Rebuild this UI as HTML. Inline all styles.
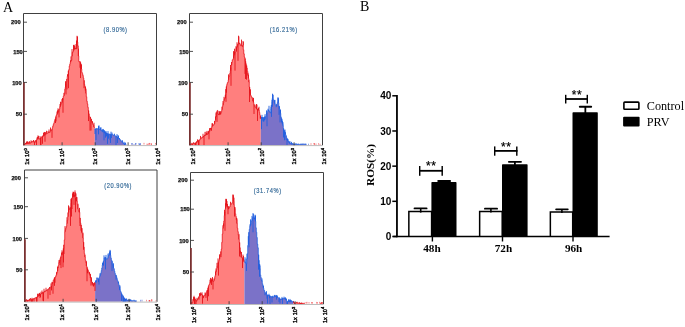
<!DOCTYPE html>
<html><head><meta charset="utf-8"><title>Figure</title>
<style>
html,body{margin:0;padding:0;background:#fff;}
body{width:685px;height:327px;overflow:hidden;}
svg{display:block;will-change:transform;}
text{font-family:"Liberation Sans",sans-serif;}
.yl{font-size:5.7px;font-weight:bold;text-anchor:end;fill:#111;stroke:#111;stroke-width:0.25px;}
.xl{font-size:5.6px;fill:#000;stroke:#000;stroke-width:0.4px;letter-spacing:0.1px;}
.pc{font-size:6.9px;fill:#356a98;letter-spacing:0.7px;stroke:#356a98;stroke-width:0.18px;}
.bl{font-size:10px;font-weight:bold;fill:#000;}
.st{font-size:12px;fill:#000;stroke:#000;stroke-width:0.2px;letter-spacing:0.6px;}
.xb{font-family:"Liberation Serif",serif;font-size:11.2px;font-weight:bold;fill:#000;}
.ros{font-family:"Liberation Serif",serif;font-size:11.3px;font-weight:bold;fill:#000;}
.lg{font-family:"Liberation Serif",serif;font-size:12.2px;fill:#000;}
.pl{font-family:"Liberation Serif",serif;font-size:14px;fill:#000;}
</style></head>
<body>
<svg width="685" height="327" viewBox="0 0 685 327">
<polygon points="23.50,145.30 23.50,144.30 24.25,144.30 24.25,144.46 24.75,144.46 24.75,144.15 25.25,144.15 25.25,143.96 25.75,143.96 25.75,143.50 26.25,143.50 26.25,143.74 26.75,143.74 26.75,143.44 27.25,143.44 27.25,142.82 27.75,142.82 27.75,143.35 28.25,143.35 28.25,143.09 28.75,143.09 28.75,143.31 29.25,143.31 29.25,142.87 29.75,142.87 29.75,143.34 30.25,143.34 30.25,142.64 30.75,142.64 30.75,142.64 31.25,142.64 31.25,141.89 31.75,141.89 31.75,141.20 32.25,141.20 32.25,141.95 32.75,141.95 32.75,141.86 33.25,141.86 33.25,141.79 33.75,141.79 33.75,141.91 34.25,141.91 34.25,141.88 34.75,141.88 34.75,142.32 35.25,142.32 35.25,141.63 35.75,141.63 35.75,141.09 36.25,141.09 36.25,140.24 36.75,140.24 36.75,139.34 37.25,139.34 37.25,138.82 37.75,138.82 37.75,138.64 38.25,138.64 38.25,138.67 38.75,138.67 38.75,138.82 39.25,138.82 39.25,139.06 39.75,139.06 39.75,138.83 40.25,138.83 40.25,138.33 40.75,138.33 40.75,137.64 41.25,137.64 41.25,137.09 41.75,137.09 41.75,136.75 42.25,136.75 42.25,136.34 42.75,136.34 42.75,135.77 43.25,135.77 43.25,136.15 43.75,136.15 43.75,135.29 44.25,135.29 44.25,135.38 44.75,135.38 44.75,135.39 45.25,135.39 45.25,134.60 45.75,134.60 45.75,133.94 46.25,133.94 46.25,133.60 46.75,133.60 46.75,133.39 47.25,133.39 47.25,133.32 47.75,133.32 47.75,132.88 48.25,132.88 48.25,132.42 48.75,132.42 48.75,132.37 49.25,132.37 49.25,131.97 49.75,131.97 49.75,132.11 50.25,132.11 50.25,130.79 50.75,130.79 50.75,130.29 51.25,130.29 51.25,130.08 51.75,130.08 51.75,129.55 52.25,129.55 52.25,127.75 52.75,127.75 52.75,126.05 53.25,126.05 53.25,124.43 53.75,124.43 53.75,123.24 54.25,123.24 54.25,121.44 54.75,121.44 54.75,119.65 55.25,119.65 55.25,118.75 55.75,118.75 55.75,116.63 56.25,116.63 56.25,115.00 56.75,115.00 56.75,114.39 57.25,114.39 57.25,113.41 57.75,113.41 57.75,112.26 58.25,112.26 58.25,111.48 58.75,111.48 58.75,109.49 59.25,109.49 59.25,108.96 59.75,108.96 59.75,106.98 60.25,106.98 60.25,105.72 60.75,105.72 60.75,104.23 61.25,104.23 61.25,102.65 61.75,102.65 61.75,102.28 62.25,102.28 62.25,100.15 62.75,100.15 62.75,98.74 63.25,98.74 63.25,96.20 63.75,96.20 63.75,95.65 64.25,95.65 64.25,92.74 64.75,92.74 64.75,89.16 65.25,89.16 65.25,87.21 65.75,87.21 65.75,83.79 66.25,83.79 66.25,81.72 66.75,81.72 66.75,79.08 67.25,79.08 67.25,76.37 67.75,76.37 67.75,74.49 68.25,74.49 68.25,70.76 68.75,70.76 68.75,69.61 69.25,69.61 69.25,66.01 69.75,66.01 69.75,64.13 70.25,64.13 70.25,62.24 70.75,62.24 70.75,60.92 71.25,60.92 71.25,60.20 71.75,60.20 71.75,56.07 72.25,56.07 72.25,52.57 72.75,52.57 72.75,51.82 73.25,51.82 73.25,50.75 73.75,50.75 73.75,49.13 74.25,49.13 74.25,49.25 74.75,49.25 74.75,48.14 75.25,48.14 75.25,48.09 75.75,48.09 75.75,49.02 76.25,49.02 76.25,45.99 76.75,45.99 76.75,41.69 77.25,41.69 77.25,42.07 77.75,42.07 77.75,45.86 78.25,45.86 78.25,55.92 78.75,55.92 78.75,61.56 79.25,61.56 79.25,61.61 79.75,61.61 79.75,61.68 80.25,61.68 80.25,62.79 80.75,62.79 80.75,65.25 81.25,65.25 81.25,69.03 81.75,69.03 81.75,72.51 82.25,72.51 82.25,73.70 82.75,73.70 82.75,75.54 83.25,75.54 83.25,78.04 83.75,78.04 83.75,80.47 84.25,80.47 84.25,84.56 84.75,84.56 84.75,86.78 85.25,86.78 85.25,90.48 85.75,90.48 85.75,93.24 86.25,93.24 86.25,96.75 86.75,96.75 86.75,101.27 87.25,101.27 87.25,103.83 87.75,103.83 87.75,107.31 88.25,107.31 88.25,110.57 88.75,110.57 88.75,113.86 89.25,113.86 89.25,116.28 89.75,116.28 89.75,117.75 90.25,117.75 90.25,118.50 90.75,118.50 90.75,120.32 91.25,120.32 91.25,121.19 91.75,121.19 91.75,122.28 92.25,122.28 92.25,123.24 92.75,123.24 92.75,124.44 93.25,124.44 93.25,124.99 93.75,124.99 93.75,126.96 94.25,126.96 94.25,127.47 94.80,127.47 94.80,145.30" fill="#ff7f7e"/>
<polyline points="23.50,144.30 24.25,144.30 24.25,144.46 24.75,144.46 24.75,144.15 25.25,144.15 25.25,143.96 25.75,143.96 25.75,143.50 26.25,143.50 26.25,143.74 26.75,143.74 26.75,143.44 27.25,143.44 27.25,142.82 27.75,142.82 27.75,143.35 28.25,143.35 28.25,143.09 28.75,143.09 28.75,143.31 29.25,143.31 29.25,142.87 29.75,142.87 29.75,143.34 30.25,143.34 30.25,142.64 30.75,142.64 30.75,142.64 31.25,142.64 31.25,141.89 31.75,141.89 31.75,141.20 32.25,141.20 32.25,141.95 32.75,141.95 32.75,141.86 33.25,141.86 33.25,141.79 33.75,141.79 33.75,141.91 34.25,141.91 34.25,141.88 34.75,141.88 34.75,142.32 35.25,142.32 35.25,141.63 35.75,141.63 35.75,141.09 36.25,141.09 36.25,140.24 36.75,140.24 36.75,139.34 37.25,139.34 37.25,138.82 37.75,138.82 37.75,138.64 38.25,138.64 38.25,138.67 38.75,138.67 38.75,138.82 39.25,138.82 39.25,139.06 39.75,139.06 39.75,138.83 40.25,138.83 40.25,138.33 40.75,138.33 40.75,137.64 41.25,137.64 41.25,137.09 41.75,137.09 41.75,136.75 42.25,136.75 42.25,136.34 42.75,136.34 42.75,135.77 43.25,135.77 43.25,136.15 43.75,136.15 43.75,135.29 44.25,135.29 44.25,135.38 44.75,135.38 44.75,135.39 45.25,135.39 45.25,134.60 45.75,134.60 45.75,133.94 46.25,133.94 46.25,133.60 46.75,133.60 46.75,133.39 47.25,133.39 47.25,133.32 47.75,133.32 47.75,132.88 48.25,132.88 48.25,132.42 48.75,132.42 48.75,132.37 49.25,132.37 49.25,131.97 49.75,131.97 49.75,132.11 50.25,132.11 50.25,130.79 50.75,130.79 50.75,130.29 51.25,130.29 51.25,130.08 51.75,130.08 51.75,129.55 52.25,129.55 52.25,127.75 52.75,127.75 52.75,126.05 53.25,126.05 53.25,124.43 53.75,124.43 53.75,123.24 54.25,123.24 54.25,121.44 54.75,121.44 54.75,119.65 55.25,119.65 55.25,118.75 55.75,118.75 55.75,116.63 56.25,116.63 56.25,115.00 56.75,115.00 56.75,114.39 57.25,114.39 57.25,113.41 57.75,113.41 57.75,112.26 58.25,112.26 58.25,111.48 58.75,111.48 58.75,109.49 59.25,109.49 59.25,108.96 59.75,108.96 59.75,106.98 60.25,106.98 60.25,105.72 60.75,105.72 60.75,104.23 61.25,104.23 61.25,102.65 61.75,102.65 61.75,102.28 62.25,102.28 62.25,100.15 62.75,100.15 62.75,98.74 63.25,98.74 63.25,96.20 63.75,96.20 63.75,95.65 64.25,95.65 64.25,92.74 64.75,92.74 64.75,89.16 65.25,89.16 65.25,87.21 65.75,87.21 65.75,83.79 66.25,83.79 66.25,81.72 66.75,81.72 66.75,79.08 67.25,79.08 67.25,76.37 67.75,76.37 67.75,74.49 68.25,74.49 68.25,70.76 68.75,70.76 68.75,69.61 69.25,69.61 69.25,66.01 69.75,66.01 69.75,64.13 70.25,64.13 70.25,62.24 70.75,62.24 70.75,60.92 71.25,60.92 71.25,60.20 71.75,60.20 71.75,56.07 72.25,56.07 72.25,52.57 72.75,52.57 72.75,51.82 73.25,51.82 73.25,50.75 73.75,50.75 73.75,49.13 74.25,49.13 74.25,49.25 74.75,49.25 74.75,48.14 75.25,48.14 75.25,48.09 75.75,48.09 75.75,49.02 76.25,49.02 76.25,45.99 76.75,45.99 76.75,41.69 77.25,41.69 77.25,42.07 77.75,42.07 77.75,45.86 78.25,45.86 78.25,55.92 78.75,55.92 78.75,61.56 79.25,61.56 79.25,61.61 79.75,61.61 79.75,61.68 80.25,61.68 80.25,62.79 80.75,62.79 80.75,65.25 81.25,65.25 81.25,69.03 81.75,69.03 81.75,72.51 82.25,72.51 82.25,73.70 82.75,73.70 82.75,75.54 83.25,75.54 83.25,78.04 83.75,78.04 83.75,80.47 84.25,80.47 84.25,84.56 84.75,84.56 84.75,86.78 85.25,86.78 85.25,90.48 85.75,90.48 85.75,93.24 86.25,93.24 86.25,96.75 86.75,96.75 86.75,101.27 87.25,101.27 87.25,103.83 87.75,103.83 87.75,107.31 88.25,107.31 88.25,110.57 88.75,110.57 88.75,113.86 89.25,113.86 89.25,116.28 89.75,116.28 89.75,117.75 90.25,117.75 90.25,118.50 90.75,118.50 90.75,120.32 91.25,120.32 91.25,121.19 91.75,121.19 91.75,122.28 92.25,122.28 92.25,123.24 92.75,123.24 92.75,124.44 93.25,124.44 93.25,124.99 93.75,124.99 93.75,126.96 94.25,126.96 94.25,127.47 94.80,127.47" fill="none" stroke="#e4121a" stroke-width="0.80"/>
<polygon points="94.80,145.30 94.80,128.77 95.25,128.77 95.25,129.29 95.75,129.29 95.75,128.99 96.25,128.99 96.25,128.56 96.75,128.56 96.75,129.17 97.25,129.17 97.25,128.99 97.75,128.99 97.75,128.59 98.25,128.59 98.25,128.03 98.75,128.03 98.75,129.04 99.25,129.04 99.25,129.09 99.75,129.09 99.75,129.52 100.25,129.52 100.25,129.80 100.75,129.80 100.75,130.05 101.25,130.05 101.25,130.10 101.75,130.10 101.75,131.25 102.25,131.25 102.25,131.64 102.75,131.64 102.75,131.78 103.25,131.78 103.25,131.53 103.75,131.53 103.75,132.08 104.25,132.08 104.25,132.70 104.75,132.70 104.75,133.03 105.25,133.03 105.25,132.44 105.75,132.44 105.75,132.60 106.25,132.60 106.25,132.99 106.75,132.99 106.75,133.49 107.25,133.49 107.25,133.77 107.75,133.77 107.75,133.54 108.25,133.54 108.25,134.29 108.75,134.29 108.75,133.96 109.25,133.96 109.25,134.26 109.75,134.26 109.75,134.27 110.25,134.27 110.25,134.66 110.75,134.66 110.75,134.16 111.25,134.16 111.25,134.41 111.75,134.41 111.75,134.16 112.25,134.16 112.25,134.60 112.75,134.60 112.75,135.01 113.25,135.01 113.25,135.04 113.75,135.04 113.75,135.25 114.25,135.25 114.25,135.32 114.75,135.32 114.75,135.74 115.25,135.74 115.25,136.13 115.75,136.13 115.75,136.30 116.25,136.30 116.25,136.46 116.75,136.46 116.75,137.47 117.25,137.47 117.25,137.34 117.75,137.34 117.75,137.70 118.25,137.70 118.25,138.33 118.75,138.33 118.75,138.50 119.25,138.50 119.25,139.32 119.75,139.32 119.75,139.56 120.25,139.56 120.25,140.09 120.75,140.09 120.75,140.84 121.25,140.84 121.25,141.15 121.75,141.15 121.75,141.89 122.25,141.89 122.25,142.29 122.75,142.29 122.75,142.98 123.25,142.98 123.25,143.50 123.75,143.50 123.75,143.76 124.25,143.76 124.25,143.99 124.75,143.99 124.75,144.09 125.25,144.09 125.25,144.11 125.75,144.11 125.75,144.38 126.25,144.38 126.25,145.30 126.75,145.30 126.75,145.30 127.25,145.30 127.25,145.30 127.75,145.30 127.75,145.30 128.25,145.30 128.25,145.30 128.75,145.30 128.75,145.30 129.25,145.30 129.25,145.30 129.75,145.30 129.75,145.30 130.25,145.30 130.25,145.30 130.75,145.30 130.75,145.30 131.25,145.30 131.25,143.56 131.75,143.56 131.75,145.30 132.25,145.30 132.25,143.61 132.75,143.61 132.75,145.30 133.25,145.30 133.25,145.30 133.75,145.30 133.75,144.46 134.25,144.46 134.25,145.30 134.75,145.30 134.75,145.30 135.25,145.30 135.25,143.57 135.75,143.57 135.75,143.43 136.25,143.43 136.25,145.30 136.75,145.30 136.75,145.30 137.25,145.30 137.25,145.30 137.75,145.30 137.75,145.30 138.25,145.30 138.25,145.30 138.75,145.30 138.75,143.60 139.25,143.60 139.25,144.44 139.75,144.44 139.75,145.30 140.25,145.30 140.25,143.73 141.00,143.73 141.00,145.30" fill="#7b72c8"/>
<polyline points="94.80,128.77 95.25,128.77 95.25,129.29 95.75,129.29 95.75,128.99 96.25,128.99 96.25,128.56 96.75,128.56 96.75,129.17 97.25,129.17 97.25,128.99 97.75,128.99 97.75,128.59 98.25,128.59 98.25,128.03 98.75,128.03 98.75,129.04 99.25,129.04 99.25,129.09 99.75,129.09 99.75,129.52 100.25,129.52 100.25,129.80 100.75,129.80 100.75,130.05 101.25,130.05 101.25,130.10 101.75,130.10 101.75,131.25 102.25,131.25 102.25,131.64 102.75,131.64 102.75,131.78 103.25,131.78 103.25,131.53 103.75,131.53 103.75,132.08 104.25,132.08 104.25,132.70 104.75,132.70 104.75,133.03 105.25,133.03 105.25,132.44 105.75,132.44 105.75,132.60 106.25,132.60 106.25,132.99 106.75,132.99 106.75,133.49 107.25,133.49 107.25,133.77 107.75,133.77 107.75,133.54 108.25,133.54 108.25,134.29 108.75,134.29 108.75,133.96 109.25,133.96 109.25,134.26 109.75,134.26 109.75,134.27 110.25,134.27 110.25,134.66 110.75,134.66 110.75,134.16 111.25,134.16 111.25,134.41 111.75,134.41 111.75,134.16 112.25,134.16 112.25,134.60 112.75,134.60 112.75,135.01 113.25,135.01 113.25,135.04 113.75,135.04 113.75,135.25 114.25,135.25 114.25,135.32 114.75,135.32 114.75,135.74 115.25,135.74 115.25,136.13 115.75,136.13 115.75,136.30 116.25,136.30 116.25,136.46 116.75,136.46 116.75,137.47 117.25,137.47 117.25,137.34 117.75,137.34 117.75,137.70 118.25,137.70 118.25,138.33 118.75,138.33 118.75,138.50 119.25,138.50 119.25,139.32 119.75,139.32 119.75,139.56 120.25,139.56 120.25,140.09 120.75,140.09 120.75,140.84 121.25,140.84 121.25,141.15 121.75,141.15 121.75,141.89 122.25,141.89 122.25,142.29 122.75,142.29 122.75,142.98 123.25,142.98 123.25,143.50 123.75,143.50 123.75,143.76 124.25,143.76 124.25,143.99 124.75,143.99 124.75,144.09 125.25,144.09 125.25,144.11 125.75,144.11 125.75,144.38 126.25,144.38" fill="none" stroke="#1f5fe0" stroke-width="0.80"/>
<polyline points="131.25,143.56 131.75,143.56" fill="none" stroke="#1f5fe0" stroke-width="0.80"/>
<polyline points="132.25,143.61 132.75,143.61" fill="none" stroke="#1f5fe0" stroke-width="0.80"/>
<polyline points="133.75,144.46 134.25,144.46" fill="none" stroke="#1f5fe0" stroke-width="0.80"/>
<polyline points="135.25,143.57 135.75,143.57 135.75,143.43 136.25,143.43" fill="none" stroke="#1f5fe0" stroke-width="0.80"/>
<polyline points="138.75,143.60 139.25,143.60 139.25,144.44 139.75,144.44" fill="none" stroke="#1f5fe0" stroke-width="0.80"/>
<polyline points="140.25,143.73 141.00,143.73" fill="none" stroke="#1f5fe0" stroke-width="0.80"/>
<polygon points="141.00,145.30 141.00,145.30 141.25,145.30 141.25,145.30 141.75,145.30 141.75,145.30 142.25,145.30 142.25,145.30 142.75,145.30 142.75,145.30 143.25,145.30 143.25,145.30 143.75,145.30 143.75,143.32 144.25,143.32 144.25,145.30 144.75,145.30 144.75,145.30 145.25,145.30 145.25,145.30 145.75,145.30 145.75,145.30 146.25,145.30 146.25,145.30 146.75,145.30 146.75,144.02 147.25,144.02 147.25,145.30 147.75,145.30 147.75,144.28 148.25,144.28 148.25,145.30 148.75,145.30 148.75,143.53 149.25,143.53 149.25,143.41 149.75,143.41 149.75,145.30 150.25,145.30 150.25,145.30 150.75,145.30 150.75,143.74 151.25,143.74 151.25,144.10 151.75,144.10 151.75,145.30 152.25,145.30 152.25,145.30 152.75,145.30 152.75,145.30 153.25,145.30 153.25,145.30 153.75,145.30 153.75,145.30 154.25,145.30 154.25,145.30 154.75,145.30 154.75,145.30 155.25,145.30 155.25,143.43 155.75,143.43 155.75,145.30" fill="#ff7f7e"/>
<polyline points="143.75,143.32 144.25,143.32" fill="none" stroke="#e4121a" stroke-width="0.80"/>
<polyline points="146.75,144.02 147.25,144.02" fill="none" stroke="#e4121a" stroke-width="0.80"/>
<polyline points="147.75,144.28 148.25,144.28" fill="none" stroke="#e4121a" stroke-width="0.80"/>
<polyline points="148.75,143.53 149.25,143.53 149.25,143.41 149.75,143.41" fill="none" stroke="#e4121a" stroke-width="0.80"/>
<polyline points="150.75,143.74 151.25,143.74 151.25,144.10 151.75,144.10" fill="none" stroke="#e4121a" stroke-width="0.80"/>
<polyline points="155.25,143.43 155.75,143.43" fill="none" stroke="#e4121a" stroke-width="0.80"/>
<path d="M24.00,145.30V144.30M25.50,143.96V142.85M26.50,143.74V141.83M27.00,143.44V141.20M27.50,142.82V141.49M28.00,143.35V142.02M29.00,143.31V141.61M29.50,142.87V141.26M31.00,142.64V140.35M33.50,141.79V140.03M34.00,141.91V140.62M34.50,145.30V141.88M35.50,141.63V140.21M36.50,145.30V140.24M37.00,139.34V137.52M37.50,138.82V136.88M38.00,138.64V135.38M38.50,138.67V136.05M40.00,138.83V136.06M40.50,145.30V138.33M41.00,145.30V137.64M42.50,143.78V136.34M43.50,136.15V132.83M44.00,135.29V132.40M44.50,135.38V131.94M45.00,141.73V135.39M45.50,134.60V132.15M46.50,133.60V130.76M48.00,132.88V131.02M49.00,132.37V129.47M50.50,130.79V127.50M52.00,137.84V129.55M55.50,122.99V118.75M56.00,121.36V116.63M57.00,114.39V111.58M57.50,113.41V110.33M58.00,112.26V108.34M59.00,117.37V109.49M60.00,106.98V104.01M60.50,105.72V101.73M62.00,102.28V99.01M62.50,100.15V98.02M63.00,112.75V98.74M64.00,95.65V92.95M65.50,87.21V81.23M66.00,94.40V83.79M67.00,89.44V79.08M67.50,76.37V74.37M68.50,88.18V70.76M70.50,62.24V60.34M71.00,60.92V56.42M72.00,56.07V49.06M73.50,50.75V45.00M74.00,49.13V45.83M74.00,49.13V44.70M74.40,49.13V45.50M76.00,49.02V43.99M76.50,45.99V40.45M77.00,48.67V41.69M77.00,41.69V35.80M77.40,41.69V36.60M77.50,42.07V36.71M78.50,55.92V48.62M80.00,67.73V61.68M80.50,78.06V62.79M81.00,69.00V65.25M81.50,69.03V64.24M84.00,88.18V80.47M85.50,90.48V86.54M86.00,93.24V88.66M88.50,121.05V110.57M90.00,130.63V117.75M90.50,118.50V116.96M91.00,130.50V120.32M91.50,121.19V118.87M92.50,123.24V121.16M94.00,126.96V122.73" stroke="#e4121a" stroke-width="0.90" fill="none"/>
<path d="M95.00,134.02V128.77M96.00,140.02V128.99M98.50,134.33V128.03M98.50,128.03V125.90M98.90,128.03V126.70M99.00,129.04V125.42M100.50,129.80V127.59M101.00,130.05V127.35M102.50,131.64V129.46M103.00,131.78V128.94M103.50,131.53V129.41M104.00,140.28V132.08M104.50,132.70V130.23M105.00,133.03V130.88M105.50,137.69V132.44M106.00,132.60V131.02M106.50,136.33V132.99M107.50,143.87V133.77M108.00,133.54V131.09M108.50,138.68V134.29M110.00,139.88V134.27M110.50,142.96V134.66M111.00,134.16V131.66M111.50,138.07V134.41M112.00,134.16V132.58M114.50,135.32V133.72M116.00,145.30V136.30M117.00,137.47V134.11M117.50,143.06V137.34M118.00,137.70V135.00M118.50,138.33V135.89M119.50,139.32V138.12M122.50,142.29V140.25M124.00,143.76V141.77M124.50,145.30V143.99M125.00,144.09V142.48M125.50,144.11V142.83" stroke="#1f5fe0" stroke-width="0.90" fill="none"/>
<path d="M23.50,145.30 V13.50 H156.50 V145.30" fill="none" stroke="#404040" stroke-width="1"/>
<line x1="23.50" y1="145.60" x2="156.50" y2="145.60" stroke="#bdbdbd" stroke-width="1"/>
<line x1="23.95" y1="82.00" x2="23.95" y2="145.30" stroke="#7e3030" stroke-width="1.7"/>
<line x1="23.50" y1="22.20" x2="27.00" y2="22.20" stroke="#404040" stroke-width="0.9"/>
<text x="20.60" y="24.30" class="yl">200</text>
<line x1="23.50" y1="51.40" x2="27.00" y2="51.40" stroke="#404040" stroke-width="0.9"/>
<text x="22.80" y="53.50" class="yl">150</text>
<line x1="23.50" y1="82.40" x2="27.00" y2="82.40" stroke="#404040" stroke-width="0.9"/>
<text x="21.70" y="84.50" class="yl">100</text>
<line x1="23.50" y1="114.20" x2="27.00" y2="114.20" stroke="#404040" stroke-width="0.9"/>
<text x="22.10" y="116.30" class="yl">50</text>
<text transform="translate(29.20,164.80) rotate(-90)" class="xl">1x 10<tspan dy="-2.3" font-size="4">0</tspan></text>
<line x1="62.10" y1="145.30" x2="62.10" y2="142.30" stroke="#404040" stroke-width="0.9"/>
<text transform="translate(64.20,164.80) rotate(-90)" class="xl">1x 10<tspan dy="-2.3" font-size="4">1</tspan></text>
<line x1="95.20" y1="145.30" x2="95.20" y2="142.30" stroke="#404040" stroke-width="0.9"/>
<text transform="translate(97.30,164.80) rotate(-90)" class="xl">1x 10<tspan dy="-2.3" font-size="4">2</tspan></text>
<line x1="128.10" y1="145.30" x2="128.10" y2="142.30" stroke="#404040" stroke-width="0.9"/>
<text transform="translate(130.20,164.80) rotate(-90)" class="xl">1x 10<tspan dy="-2.3" font-size="4">3</tspan></text>
<text transform="translate(159.90,164.80) rotate(-90)" class="xl">1x 10<tspan dy="-2.3" font-size="4">4</tspan></text>
<text transform="translate(103.50,31.70) scale(0.830,1)" class="pc">(8.90%)</text>
<polygon points="189.50,145.30 189.50,144.48 190.25,144.48 190.25,144.57 190.75,144.57 190.75,144.32 191.25,144.32 191.25,144.32 191.75,144.32 191.75,143.96 192.25,143.96 192.25,144.09 192.75,144.09 192.75,143.76 193.25,143.76 193.25,143.65 193.75,143.65 193.75,143.45 194.25,143.45 194.25,143.52 194.75,143.52 194.75,143.52 195.25,143.52 195.25,143.08 195.75,143.08 195.75,142.64 196.25,142.64 196.25,142.68 196.75,142.68 196.75,142.00 197.25,142.00 197.25,141.63 197.75,141.63 197.75,141.08 198.25,141.08 198.25,141.12 198.75,141.12 198.75,140.44 199.25,140.44 199.25,139.83 199.75,139.83 199.75,139.66 200.25,139.66 200.25,138.60 200.75,138.60 200.75,138.43 201.25,138.43 201.25,138.43 201.75,138.43 201.75,137.31 202.25,137.31 202.25,137.43 202.75,137.43 202.75,136.99 203.25,136.99 203.25,136.53 203.75,136.53 203.75,136.16 204.25,136.16 204.25,135.09 204.75,135.09 204.75,135.53 205.25,135.53 205.25,134.97 205.75,134.97 205.75,134.53 206.25,134.53 206.25,134.73 206.75,134.73 206.75,133.93 207.25,133.93 207.25,134.38 207.75,134.38 207.75,133.49 208.25,133.49 208.25,133.30 208.75,133.30 208.75,132.41 209.25,132.41 209.25,131.50 209.75,131.50 209.75,130.49 210.25,130.49 210.25,129.49 210.75,129.49 210.75,128.36 211.25,128.36 211.25,128.14 211.75,128.14 211.75,126.63 212.25,126.63 212.25,125.88 212.75,125.88 212.75,125.59 213.25,125.59 213.25,125.21 213.75,125.21 213.75,124.21 214.25,124.21 214.25,123.78 214.75,123.78 214.75,121.53 215.25,121.53 215.25,119.88 215.75,119.88 215.75,116.82 216.25,116.82 216.25,113.58 216.75,113.58 216.75,111.72 217.25,111.72 217.25,110.44 217.75,110.44 217.75,113.74 218.25,113.74 218.25,114.51 218.75,114.51 218.75,114.89 219.25,114.89 219.25,114.12 219.75,114.12 219.75,113.54 220.25,113.54 220.25,114.25 220.75,114.25 220.75,112.96 221.25,112.96 221.25,111.51 221.75,111.51 221.75,109.65 222.25,109.65 222.25,106.79 222.75,106.79 222.75,105.15 223.25,105.15 223.25,102.87 223.75,102.87 223.75,100.79 224.25,100.79 224.25,99.02 224.75,99.02 224.75,97.77 225.25,97.77 225.25,94.81 225.75,94.81 225.75,89.27 226.25,89.27 226.25,86.52 226.75,86.52 226.75,84.60 227.25,84.60 227.25,82.78 227.75,82.78 227.75,82.26 228.25,82.26 228.25,79.84 228.75,79.84 228.75,76.88 229.25,76.88 229.25,75.72 229.75,75.72 229.75,73.29 230.25,73.29 230.25,70.71 230.75,70.71 230.75,67.76 231.25,67.76 231.25,65.02 231.75,65.02 231.75,62.42 232.25,62.42 232.25,59.78 232.75,59.78 232.75,59.70 233.25,59.70 233.25,58.31 233.75,58.31 233.75,55.76 234.25,55.76 234.25,54.62 234.75,54.62 234.75,52.34 235.25,52.34 235.25,51.91 235.75,51.91 235.75,49.95 236.25,49.95 236.25,47.31 236.75,47.31 236.75,47.18 237.25,47.18 237.25,45.40 237.75,45.40 237.75,44.07 238.25,44.07 238.25,43.19 238.75,43.19 238.75,43.75 239.25,43.75 239.25,42.96 239.75,42.96 239.75,43.97 240.25,43.97 240.25,45.44 240.75,45.44 240.75,45.78 241.25,45.78 241.25,45.56 241.75,45.56 241.75,45.50 242.25,45.50 242.25,46.60 242.75,46.60 242.75,45.18 243.25,45.18 243.25,49.76 243.75,49.76 243.75,53.82 244.25,53.82 244.25,57.02 244.75,57.02 244.75,58.61 245.25,58.61 245.25,61.40 245.75,61.40 245.75,63.72 246.25,63.72 246.25,65.59 246.75,65.59 246.75,68.04 247.25,68.04 247.25,71.24 247.75,71.24 247.75,75.39 248.25,75.39 248.25,78.37 248.75,78.37 248.75,81.97 249.25,81.97 249.25,87.05 249.75,87.05 249.75,92.61 250.25,92.61 250.25,94.95 250.75,94.95 250.75,95.85 251.25,95.85 251.25,96.93 251.75,96.93 251.75,97.41 252.25,97.41 252.25,98.89 252.75,98.89 252.75,101.01 253.25,101.01 253.25,102.42 253.75,102.42 253.75,104.47 254.25,104.47 254.25,105.52 254.75,105.52 254.75,106.97 255.25,106.97 255.25,107.19 255.75,107.19 255.75,107.23 256.25,107.23 256.25,108.86 256.75,108.86 256.75,109.08 257.25,109.08 257.25,109.21 257.75,109.21 257.75,109.69 258.25,109.69 258.25,110.03 258.75,110.03 258.75,110.40 259.25,110.40 259.25,112.45 259.75,112.45 259.75,114.98 260.25,114.98 260.25,118.51 260.80,118.51 260.80,145.30" fill="#ff7f7e"/>
<polyline points="189.50,144.48 190.25,144.48 190.25,144.57 190.75,144.57 190.75,144.32 191.25,144.32 191.25,144.32 191.75,144.32 191.75,143.96 192.25,143.96 192.25,144.09 192.75,144.09 192.75,143.76 193.25,143.76 193.25,143.65 193.75,143.65 193.75,143.45 194.25,143.45 194.25,143.52 194.75,143.52 194.75,143.52 195.25,143.52 195.25,143.08 195.75,143.08 195.75,142.64 196.25,142.64 196.25,142.68 196.75,142.68 196.75,142.00 197.25,142.00 197.25,141.63 197.75,141.63 197.75,141.08 198.25,141.08 198.25,141.12 198.75,141.12 198.75,140.44 199.25,140.44 199.25,139.83 199.75,139.83 199.75,139.66 200.25,139.66 200.25,138.60 200.75,138.60 200.75,138.43 201.25,138.43 201.25,138.43 201.75,138.43 201.75,137.31 202.25,137.31 202.25,137.43 202.75,137.43 202.75,136.99 203.25,136.99 203.25,136.53 203.75,136.53 203.75,136.16 204.25,136.16 204.25,135.09 204.75,135.09 204.75,135.53 205.25,135.53 205.25,134.97 205.75,134.97 205.75,134.53 206.25,134.53 206.25,134.73 206.75,134.73 206.75,133.93 207.25,133.93 207.25,134.38 207.75,134.38 207.75,133.49 208.25,133.49 208.25,133.30 208.75,133.30 208.75,132.41 209.25,132.41 209.25,131.50 209.75,131.50 209.75,130.49 210.25,130.49 210.25,129.49 210.75,129.49 210.75,128.36 211.25,128.36 211.25,128.14 211.75,128.14 211.75,126.63 212.25,126.63 212.25,125.88 212.75,125.88 212.75,125.59 213.25,125.59 213.25,125.21 213.75,125.21 213.75,124.21 214.25,124.21 214.25,123.78 214.75,123.78 214.75,121.53 215.25,121.53 215.25,119.88 215.75,119.88 215.75,116.82 216.25,116.82 216.25,113.58 216.75,113.58 216.75,111.72 217.25,111.72 217.25,110.44 217.75,110.44 217.75,113.74 218.25,113.74 218.25,114.51 218.75,114.51 218.75,114.89 219.25,114.89 219.25,114.12 219.75,114.12 219.75,113.54 220.25,113.54 220.25,114.25 220.75,114.25 220.75,112.96 221.25,112.96 221.25,111.51 221.75,111.51 221.75,109.65 222.25,109.65 222.25,106.79 222.75,106.79 222.75,105.15 223.25,105.15 223.25,102.87 223.75,102.87 223.75,100.79 224.25,100.79 224.25,99.02 224.75,99.02 224.75,97.77 225.25,97.77 225.25,94.81 225.75,94.81 225.75,89.27 226.25,89.27 226.25,86.52 226.75,86.52 226.75,84.60 227.25,84.60 227.25,82.78 227.75,82.78 227.75,82.26 228.25,82.26 228.25,79.84 228.75,79.84 228.75,76.88 229.25,76.88 229.25,75.72 229.75,75.72 229.75,73.29 230.25,73.29 230.25,70.71 230.75,70.71 230.75,67.76 231.25,67.76 231.25,65.02 231.75,65.02 231.75,62.42 232.25,62.42 232.25,59.78 232.75,59.78 232.75,59.70 233.25,59.70 233.25,58.31 233.75,58.31 233.75,55.76 234.25,55.76 234.25,54.62 234.75,54.62 234.75,52.34 235.25,52.34 235.25,51.91 235.75,51.91 235.75,49.95 236.25,49.95 236.25,47.31 236.75,47.31 236.75,47.18 237.25,47.18 237.25,45.40 237.75,45.40 237.75,44.07 238.25,44.07 238.25,43.19 238.75,43.19 238.75,43.75 239.25,43.75 239.25,42.96 239.75,42.96 239.75,43.97 240.25,43.97 240.25,45.44 240.75,45.44 240.75,45.78 241.25,45.78 241.25,45.56 241.75,45.56 241.75,45.50 242.25,45.50 242.25,46.60 242.75,46.60 242.75,45.18 243.25,45.18 243.25,49.76 243.75,49.76 243.75,53.82 244.25,53.82 244.25,57.02 244.75,57.02 244.75,58.61 245.25,58.61 245.25,61.40 245.75,61.40 245.75,63.72 246.25,63.72 246.25,65.59 246.75,65.59 246.75,68.04 247.25,68.04 247.25,71.24 247.75,71.24 247.75,75.39 248.25,75.39 248.25,78.37 248.75,78.37 248.75,81.97 249.25,81.97 249.25,87.05 249.75,87.05 249.75,92.61 250.25,92.61 250.25,94.95 250.75,94.95 250.75,95.85 251.25,95.85 251.25,96.93 251.75,96.93 251.75,97.41 252.25,97.41 252.25,98.89 252.75,98.89 252.75,101.01 253.25,101.01 253.25,102.42 253.75,102.42 253.75,104.47 254.25,104.47 254.25,105.52 254.75,105.52 254.75,106.97 255.25,106.97 255.25,107.19 255.75,107.19 255.75,107.23 256.25,107.23 256.25,108.86 256.75,108.86 256.75,109.08 257.25,109.08 257.25,109.21 257.75,109.21 257.75,109.69 258.25,109.69 258.25,110.03 258.75,110.03 258.75,110.40 259.25,110.40 259.25,112.45 259.75,112.45 259.75,114.98 260.25,114.98 260.25,118.51 260.80,118.51" fill="none" stroke="#e4121a" stroke-width="0.80"/>
<polygon points="260.80,145.30 260.80,117.36 261.25,117.36 261.25,117.23 261.75,117.23 261.75,117.89 262.25,117.89 262.25,118.57 262.75,118.57 262.75,120.53 263.25,120.53 263.25,121.38 263.75,121.38 263.75,120.79 264.25,120.79 264.25,120.09 264.75,120.09 264.75,118.93 265.25,118.93 265.25,117.09 265.75,117.09 265.75,116.38 266.25,116.38 266.25,114.02 266.75,114.02 266.75,113.47 267.25,113.47 267.25,112.20 267.75,112.20 267.75,111.01 268.25,111.01 268.25,109.95 268.75,109.95 268.75,110.81 269.25,110.81 269.25,111.24 269.75,111.24 269.75,112.01 270.25,112.01 270.25,112.93 270.75,112.93 270.75,109.01 271.25,109.01 271.25,105.14 271.75,105.14 271.75,102.32 272.25,102.32 272.25,98.42 272.75,98.42 272.75,98.46 273.25,98.46 273.25,99.62 273.75,99.62 273.75,100.91 274.25,100.91 274.25,103.22 274.75,103.22 274.75,104.02 275.25,104.02 275.25,105.16 275.75,105.16 275.75,106.63 276.25,106.63 276.25,106.60 276.75,106.60 276.75,104.95 277.25,104.95 277.25,102.60 277.75,102.60 277.75,100.69 278.25,100.69 278.25,102.86 278.75,102.86 278.75,106.10 279.25,106.10 279.25,108.79 279.75,108.79 279.75,110.44 280.25,110.44 280.25,113.37 280.75,113.37 280.75,116.92 281.25,116.92 281.25,118.47 281.75,118.47 281.75,121.04 282.25,121.04 282.25,123.84 282.75,123.84 282.75,125.56 283.25,125.56 283.25,128.56 283.75,128.56 283.75,130.10 284.25,130.10 284.25,131.46 284.75,131.46 284.75,132.72 285.25,132.72 285.25,134.56 285.75,134.56 285.75,135.68 286.25,135.68 286.25,137.64 286.75,137.64 286.75,139.03 287.25,139.03 287.25,139.86 287.75,139.86 287.75,140.85 288.25,140.85 288.25,141.55 288.75,141.55 288.75,142.47 289.25,142.47 289.25,143.26 289.75,143.26 289.75,143.52 290.25,143.52 290.25,143.26 290.75,143.26 290.75,143.65 291.25,143.65 291.25,143.80 291.75,143.80 291.75,143.46 292.25,143.46 292.25,143.69 292.75,143.69 292.75,143.87 293.25,143.87 293.25,144.05 293.75,144.05 293.75,143.97 294.25,143.97 294.25,144.02 294.75,144.02 294.75,144.24 295.25,144.24 295.25,144.10 295.75,144.10 295.75,144.24 296.25,144.24 296.25,144.31 296.75,144.31 296.75,144.46 297.25,144.46 297.25,144.51 297.75,144.51 297.75,144.31 298.25,144.31 298.25,144.43 298.75,144.43 298.75,144.45 299.25,144.45 299.25,144.41 299.75,144.41 299.75,144.29 300.25,144.29 300.25,144.49 300.75,144.49 300.75,144.45 301.25,144.45 301.25,144.24 301.75,144.24 301.75,144.46 302.25,144.46 302.25,144.37 302.75,144.37 302.75,144.44 303.25,144.44 303.25,144.44 303.75,144.44 303.75,144.38 304.25,144.38 304.25,144.27 304.75,144.27 304.75,144.22 305.25,144.22 305.25,144.23 305.75,144.23 305.75,144.49 306.25,144.49 306.25,145.30 306.75,145.30 306.75,145.30 307.25,145.30 307.25,145.30 307.75,145.30 307.75,145.30 308.25,145.30 308.25,144.09 308.75,144.09 308.75,145.30 309.50,145.30 309.50,145.30" fill="#7b72c8"/>
<polyline points="260.80,117.36 261.25,117.36 261.25,117.23 261.75,117.23 261.75,117.89 262.25,117.89 262.25,118.57 262.75,118.57 262.75,120.53 263.25,120.53 263.25,121.38 263.75,121.38 263.75,120.79 264.25,120.79 264.25,120.09 264.75,120.09 264.75,118.93 265.25,118.93 265.25,117.09 265.75,117.09 265.75,116.38 266.25,116.38 266.25,114.02 266.75,114.02 266.75,113.47 267.25,113.47 267.25,112.20 267.75,112.20 267.75,111.01 268.25,111.01 268.25,109.95 268.75,109.95 268.75,110.81 269.25,110.81 269.25,111.24 269.75,111.24 269.75,112.01 270.25,112.01 270.25,112.93 270.75,112.93 270.75,109.01 271.25,109.01 271.25,105.14 271.75,105.14 271.75,102.32 272.25,102.32 272.25,98.42 272.75,98.42 272.75,98.46 273.25,98.46 273.25,99.62 273.75,99.62 273.75,100.91 274.25,100.91 274.25,103.22 274.75,103.22 274.75,104.02 275.25,104.02 275.25,105.16 275.75,105.16 275.75,106.63 276.25,106.63 276.25,106.60 276.75,106.60 276.75,104.95 277.25,104.95 277.25,102.60 277.75,102.60 277.75,100.69 278.25,100.69 278.25,102.86 278.75,102.86 278.75,106.10 279.25,106.10 279.25,108.79 279.75,108.79 279.75,110.44 280.25,110.44 280.25,113.37 280.75,113.37 280.75,116.92 281.25,116.92 281.25,118.47 281.75,118.47 281.75,121.04 282.25,121.04 282.25,123.84 282.75,123.84 282.75,125.56 283.25,125.56 283.25,128.56 283.75,128.56 283.75,130.10 284.25,130.10 284.25,131.46 284.75,131.46 284.75,132.72 285.25,132.72 285.25,134.56 285.75,134.56 285.75,135.68 286.25,135.68 286.25,137.64 286.75,137.64 286.75,139.03 287.25,139.03 287.25,139.86 287.75,139.86 287.75,140.85 288.25,140.85 288.25,141.55 288.75,141.55 288.75,142.47 289.25,142.47 289.25,143.26 289.75,143.26 289.75,143.52 290.25,143.52 290.25,143.26 290.75,143.26 290.75,143.65 291.25,143.65 291.25,143.80 291.75,143.80 291.75,143.46 292.25,143.46 292.25,143.69 292.75,143.69 292.75,143.87 293.25,143.87 293.25,144.05 293.75,144.05 293.75,143.97 294.25,143.97 294.25,144.02 294.75,144.02 294.75,144.24 295.25,144.24 295.25,144.10 295.75,144.10 295.75,144.24 296.25,144.24 296.25,144.31 296.75,144.31 296.75,144.46 297.25,144.46 297.25,144.51 297.75,144.51 297.75,144.31 298.25,144.31 298.25,144.43 298.75,144.43 298.75,144.45 299.25,144.45 299.25,144.41 299.75,144.41 299.75,144.29 300.25,144.29 300.25,144.49 300.75,144.49 300.75,144.45 301.25,144.45 301.25,144.24 301.75,144.24 301.75,144.46 302.25,144.46 302.25,144.37 302.75,144.37 302.75,144.44 303.25,144.44 303.25,144.44 303.75,144.44 303.75,144.38 304.25,144.38 304.25,144.27 304.75,144.27 304.75,144.22 305.25,144.22 305.25,144.23 305.75,144.23 305.75,144.49 306.25,144.49" fill="none" stroke="#1f5fe0" stroke-width="0.80"/>
<polyline points="308.25,144.09 308.75,144.09" fill="none" stroke="#1f5fe0" stroke-width="0.80"/>
<polygon points="309.50,145.30 309.50,145.30 309.75,145.30 309.75,145.30 310.25,145.30 310.25,145.30 310.75,145.30 310.75,143.75 311.25,143.75 311.25,145.30 311.75,145.30 311.75,145.30 312.25,145.30 312.25,145.30 312.75,145.30 312.75,145.30 313.25,145.30 313.25,145.30 313.75,145.30 313.75,143.56 314.25,143.56 314.25,143.92 314.75,143.92 314.75,145.30 315.25,145.30 315.25,145.30 315.75,145.30 315.75,143.95 316.25,143.95 316.25,145.30 316.75,145.30 316.75,145.30 317.25,145.30 317.25,145.30 317.75,145.30 317.75,145.30 318.25,145.30 318.25,143.68 318.75,143.68 318.75,145.30 319.25,145.30 319.25,145.30 319.75,145.30 319.75,144.22 320.25,144.22 320.25,145.30 320.75,145.30 320.75,145.30 321.25,145.30 321.25,145.30 321.75,145.30 321.75,145.30" fill="#ff7f7e"/>
<polyline points="310.75,143.75 311.25,143.75" fill="none" stroke="#e4121a" stroke-width="0.80"/>
<polyline points="313.75,143.56 314.25,143.56 314.25,143.92 314.75,143.92" fill="none" stroke="#e4121a" stroke-width="0.80"/>
<polyline points="315.75,143.95 316.25,143.95" fill="none" stroke="#e4121a" stroke-width="0.80"/>
<polyline points="318.25,143.68 318.75,143.68" fill="none" stroke="#e4121a" stroke-width="0.80"/>
<polyline points="319.75,144.22 320.25,144.22" fill="none" stroke="#e4121a" stroke-width="0.80"/>
<path d="M190.50,145.30V144.57M191.00,144.32V143.56M191.50,144.32V143.82M192.00,143.96V142.84M192.50,145.30V144.09M193.50,143.65V142.37M194.00,143.45V142.62M195.00,145.30V143.52M195.50,145.30V143.08M196.00,145.30V142.64M196.50,142.68V141.31M197.50,141.63V139.39M198.00,141.08V139.81M198.50,145.30V141.12M199.00,145.30V140.44M200.50,138.60V135.95M203.00,136.99V133.77M204.00,145.23V136.16M205.00,135.53V131.86M206.00,134.53V131.80M206.50,134.73V133.04M207.00,133.93V130.89M208.00,133.49V131.61M208.50,133.30V130.79M209.00,139.39V132.41M209.50,131.50V128.11M210.50,129.49V127.95M211.50,130.79V128.14M212.00,126.63V123.32M212.50,125.88V123.23M214.50,123.78V121.02M215.50,119.88V116.45M216.00,116.82V112.47M217.00,121.85V111.72M219.00,114.89V110.97M219.50,114.12V111.39M220.50,114.25V111.23M222.00,109.65V106.71M223.00,105.15V101.02M224.00,100.79V96.83M225.50,98.23V94.81M226.00,101.79V89.27M226.50,92.69V86.52M228.50,79.84V74.39M230.50,70.71V64.94M231.00,85.82V67.76M231.50,65.02V62.01M233.50,58.31V51.12M234.50,54.62V48.70M235.00,70.64V52.34M236.00,49.95V46.13M236.50,51.53V47.31M237.00,47.18V42.25M238.00,60.82V44.07M238.50,43.19V35.70M238.90,43.19V36.50M241.50,45.56V39.58M243.00,45.18V41.00M243.40,45.18V41.80M245.00,73.87V58.61M245.50,78.98V61.40M246.50,79.69V65.59M248.00,75.39V72.84M248.50,78.37V74.55M249.00,81.97V79.71M249.50,102.02V87.05M250.50,94.95V89.31M253.00,101.01V97.72M253.50,102.42V98.02M254.00,113.98V104.47M256.00,107.23V104.64M256.50,108.86V104.01M257.00,109.08V104.66M257.50,120.95V109.21M258.50,110.03V107.86M259.00,110.40V106.74M260.50,118.51V116.05" stroke="#e4121a" stroke-width="0.90" fill="none"/>
<path d="M261.50,129.16V117.23M262.00,117.89V114.83M262.50,118.57V117.08M263.00,120.53V118.20M263.50,121.38V117.12M264.50,120.09V116.52M265.00,118.93V114.28M266.50,114.02V110.40M267.00,126.26V113.47M268.00,111.01V108.75M269.00,110.81V105.81M271.00,109.01V106.72M271.50,116.88V105.14M272.00,102.32V99.92M272.50,106.76V98.42M272.50,98.42V93.70M272.90,98.42V94.50M273.00,98.46V95.07M274.50,103.22V100.08M275.00,104.02V99.90M276.50,106.60V104.14M278.00,100.69V97.57M278.00,100.69V97.50M278.40,100.69V98.30M278.50,102.86V99.90M279.00,114.85V106.10M279.50,108.79V106.69M280.00,122.41V110.44M280.50,113.37V109.55M281.50,122.46V118.47M282.00,121.04V119.26M282.50,123.84V121.21M283.00,125.56V122.22M283.50,137.37V128.56M284.00,137.35V130.10M284.50,140.27V131.46M285.00,132.72V129.58M285.50,134.56V132.25M286.00,139.80V135.68M287.00,145.30V139.03M287.50,139.86V138.44M288.00,140.85V138.95M289.00,142.47V141.03M289.50,143.26V142.17M290.00,143.52V141.21M291.50,143.80V141.89M292.00,145.30V143.46M294.00,145.30V143.97M296.00,144.24V143.13M297.00,144.46V143.98M298.00,144.31V143.67M298.50,144.43V143.84M301.00,144.45V143.52M303.00,144.44V143.27M305.00,144.22V143.73M306.00,144.49V143.74" stroke="#1f5fe0" stroke-width="0.90" fill="none"/>
<path d="M189.50,145.30 V13.50 H322.50 V145.30" fill="none" stroke="#404040" stroke-width="1"/>
<line x1="189.50" y1="145.60" x2="322.50" y2="145.60" stroke="#bdbdbd" stroke-width="1"/>
<line x1="189.95" y1="82.30" x2="189.95" y2="145.30" stroke="#7e3030" stroke-width="1.7"/>
<line x1="189.50" y1="22.20" x2="193.00" y2="22.20" stroke="#404040" stroke-width="0.9"/>
<text x="186.60" y="24.30" class="yl">200</text>
<line x1="189.50" y1="51.40" x2="193.00" y2="51.40" stroke="#404040" stroke-width="0.9"/>
<text x="188.80" y="53.50" class="yl">150</text>
<line x1="189.50" y1="82.40" x2="193.00" y2="82.40" stroke="#404040" stroke-width="0.9"/>
<text x="187.70" y="84.50" class="yl">100</text>
<line x1="189.50" y1="114.20" x2="193.00" y2="114.20" stroke="#404040" stroke-width="0.9"/>
<text x="188.10" y="116.30" class="yl">50</text>
<text transform="translate(195.40,164.40) rotate(-90)" class="xl">1x 10<tspan dy="-2.3" font-size="4">0</tspan></text>
<line x1="228.10" y1="145.30" x2="228.10" y2="142.30" stroke="#404040" stroke-width="0.9"/>
<text transform="translate(230.40,164.40) rotate(-90)" class="xl">1x 10<tspan dy="-2.3" font-size="4">1</tspan></text>
<line x1="261.20" y1="145.30" x2="261.20" y2="142.30" stroke="#404040" stroke-width="0.9"/>
<text transform="translate(263.50,164.40) rotate(-90)" class="xl">1x 10<tspan dy="-2.3" font-size="4">2</tspan></text>
<line x1="294.10" y1="145.30" x2="294.10" y2="142.30" stroke="#404040" stroke-width="0.9"/>
<text transform="translate(296.40,164.40) rotate(-90)" class="xl">1x 10<tspan dy="-2.3" font-size="4">3</tspan></text>
<text transform="translate(326.10,164.40) rotate(-90)" class="xl">1x 10<tspan dy="-2.3" font-size="4">4</tspan></text>
<text transform="translate(269.80,31.70) scale(0.830,1)" class="pc">(16.21%)</text>
<polygon points="24.50,301.80 24.50,300.36 25.25,300.36 25.25,300.32 25.75,300.32 25.75,300.45 26.25,300.45 26.25,300.38 26.75,300.38 26.75,300.35 27.25,300.35 27.25,300.36 27.75,300.36 27.75,300.00 28.25,300.00 28.25,300.23 28.75,300.23 28.75,300.04 29.25,300.04 29.25,300.04 29.75,300.04 29.75,300.04 30.25,300.04 30.25,299.71 30.75,299.71 30.75,299.84 31.25,299.84 31.25,299.53 31.75,299.53 31.75,299.19 32.25,299.19 32.25,299.30 32.75,299.30 32.75,298.93 33.25,298.93 33.25,299.03 33.75,299.03 33.75,298.62 34.25,298.62 34.25,298.24 34.75,298.24 34.75,298.33 35.25,298.33 35.25,297.73 35.75,297.73 35.75,297.66 36.25,297.66 36.25,297.42 36.75,297.42 36.75,296.99 37.25,296.99 37.25,296.98 37.75,296.98 37.75,296.56 38.25,296.56 38.25,295.81 38.75,295.81 38.75,295.93 39.25,295.93 39.25,295.34 39.75,295.34 39.75,294.53 40.25,294.53 40.25,294.12 40.75,294.12 40.75,293.79 41.25,293.79 41.25,293.61 41.75,293.61 41.75,293.33 42.25,293.33 42.25,292.87 42.75,292.87 42.75,292.42 43.25,292.42 43.25,292.64 43.75,292.64 43.75,292.11 44.25,292.11 44.25,291.31 44.75,291.31 44.75,291.19 45.25,291.19 45.25,291.41 45.75,291.41 45.75,290.62 46.25,290.62 46.25,290.06 46.75,290.06 46.75,290.20 47.25,290.20 47.25,289.89 47.75,289.89 47.75,289.50 48.25,289.50 48.25,288.82 48.75,288.82 48.75,288.95 49.25,288.95 49.25,287.96 49.75,287.96 49.75,287.72 50.25,287.72 50.25,287.74 50.75,287.74 50.75,287.34 51.25,287.34 51.25,286.03 51.75,286.03 51.75,283.94 52.25,283.94 52.25,282.82 52.75,282.82 52.75,282.25 53.25,282.25 53.25,280.02 53.75,280.02 53.75,279.65 54.25,279.65 54.25,277.87 54.75,277.87 54.75,277.57 55.25,277.57 55.25,276.98 55.75,276.98 55.75,275.79 56.25,275.79 56.25,274.67 56.75,274.67 56.75,272.86 57.25,272.86 57.25,271.03 57.75,271.03 57.75,267.79 58.25,267.79 58.25,265.48 58.75,265.48 58.75,263.02 59.25,263.02 59.25,261.67 59.75,261.67 59.75,259.86 60.25,259.86 60.25,258.02 60.75,258.02 60.75,256.69 61.25,256.69 61.25,254.87 61.75,254.87 61.75,254.70 62.25,254.70 62.25,253.24 62.75,253.24 62.75,251.78 63.25,251.78 63.25,248.43 63.75,248.43 63.75,244.91 64.25,244.91 64.25,239.86 64.75,239.86 64.75,231.68 65.25,231.68 65.25,229.66 65.75,229.66 65.75,227.94 66.25,227.94 66.25,226.37 66.75,226.37 66.75,223.44 67.25,223.44 67.25,220.29 67.75,220.29 67.75,216.55 68.25,216.55 68.25,212.64 68.75,212.64 68.75,209.54 69.25,209.54 69.25,209.52 69.75,209.52 69.75,208.09 70.25,208.09 70.25,207.42 70.75,207.42 70.75,203.47 71.25,203.47 71.25,199.44 71.75,199.44 71.75,198.09 72.25,198.09 72.25,197.55 72.75,197.55 72.75,196.59 73.25,196.59 73.25,196.20 73.75,196.20 73.75,194.94 74.25,194.94 74.25,196.51 74.75,196.51 74.75,196.39 75.25,196.39 75.25,197.92 75.75,197.92 75.75,199.10 76.25,199.10 76.25,200.90 76.75,200.90 76.75,201.16 77.25,201.16 77.25,204.63 77.75,204.63 77.75,208.75 78.25,208.75 78.25,210.24 78.75,210.24 78.75,211.76 79.25,211.76 79.25,212.26 79.75,212.26 79.75,218.06 80.25,218.06 80.25,222.90 80.75,222.90 80.75,224.97 81.25,224.97 81.25,227.93 81.75,227.93 81.75,231.39 82.25,231.39 82.25,233.73 82.75,233.73 82.75,237.90 83.25,237.90 83.25,242.16 83.75,242.16 83.75,247.15 84.25,247.15 84.25,253.64 84.75,253.64 84.75,256.83 85.25,256.83 85.25,260.16 85.75,260.16 85.75,262.59 86.25,262.59 86.25,265.90 86.75,265.90 86.75,267.37 87.25,267.37 87.25,268.90 87.75,268.90 87.75,270.06 88.25,270.06 88.25,271.46 88.75,271.46 88.75,272.77 89.25,272.77 89.25,274.35 89.75,274.35 89.75,275.46 90.25,275.46 90.25,278.09 90.75,278.09 90.75,279.57 91.25,279.57 91.25,281.35 91.75,281.35 91.75,282.67 92.25,282.67 92.25,284.53 92.75,284.53 92.75,285.26 93.25,285.26 93.25,286.19 93.75,286.19 93.75,284.95 94.25,284.95 94.25,283.37 94.75,283.37 94.75,282.41 95.10,282.41 95.10,301.80" fill="#ff7f7e"/>
<polyline points="24.50,300.36 25.25,300.36 25.25,300.32 25.75,300.32 25.75,300.45 26.25,300.45 26.25,300.38 26.75,300.38 26.75,300.35 27.25,300.35 27.25,300.36 27.75,300.36 27.75,300.00 28.25,300.00 28.25,300.23 28.75,300.23 28.75,300.04 29.25,300.04 29.25,300.04 29.75,300.04 29.75,300.04 30.25,300.04 30.25,299.71 30.75,299.71 30.75,299.84 31.25,299.84 31.25,299.53 31.75,299.53 31.75,299.19 32.25,299.19 32.25,299.30 32.75,299.30 32.75,298.93 33.25,298.93 33.25,299.03 33.75,299.03 33.75,298.62 34.25,298.62 34.25,298.24 34.75,298.24 34.75,298.33 35.25,298.33 35.25,297.73 35.75,297.73 35.75,297.66 36.25,297.66 36.25,297.42 36.75,297.42 36.75,296.99 37.25,296.99 37.25,296.98 37.75,296.98 37.75,296.56 38.25,296.56 38.25,295.81 38.75,295.81 38.75,295.93 39.25,295.93 39.25,295.34 39.75,295.34 39.75,294.53 40.25,294.53 40.25,294.12 40.75,294.12 40.75,293.79 41.25,293.79 41.25,293.61 41.75,293.61 41.75,293.33 42.25,293.33 42.25,292.87 42.75,292.87 42.75,292.42 43.25,292.42 43.25,292.64 43.75,292.64 43.75,292.11 44.25,292.11 44.25,291.31 44.75,291.31 44.75,291.19 45.25,291.19 45.25,291.41 45.75,291.41 45.75,290.62 46.25,290.62 46.25,290.06 46.75,290.06 46.75,290.20 47.25,290.20 47.25,289.89 47.75,289.89 47.75,289.50 48.25,289.50 48.25,288.82 48.75,288.82 48.75,288.95 49.25,288.95 49.25,287.96 49.75,287.96 49.75,287.72 50.25,287.72 50.25,287.74 50.75,287.74 50.75,287.34 51.25,287.34 51.25,286.03 51.75,286.03 51.75,283.94 52.25,283.94 52.25,282.82 52.75,282.82 52.75,282.25 53.25,282.25 53.25,280.02 53.75,280.02 53.75,279.65 54.25,279.65 54.25,277.87 54.75,277.87 54.75,277.57 55.25,277.57 55.25,276.98 55.75,276.98 55.75,275.79 56.25,275.79 56.25,274.67 56.75,274.67 56.75,272.86 57.25,272.86 57.25,271.03 57.75,271.03 57.75,267.79 58.25,267.79 58.25,265.48 58.75,265.48 58.75,263.02 59.25,263.02 59.25,261.67 59.75,261.67 59.75,259.86 60.25,259.86 60.25,258.02 60.75,258.02 60.75,256.69 61.25,256.69 61.25,254.87 61.75,254.87 61.75,254.70 62.25,254.70 62.25,253.24 62.75,253.24 62.75,251.78 63.25,251.78 63.25,248.43 63.75,248.43 63.75,244.91 64.25,244.91 64.25,239.86 64.75,239.86 64.75,231.68 65.25,231.68 65.25,229.66 65.75,229.66 65.75,227.94 66.25,227.94 66.25,226.37 66.75,226.37 66.75,223.44 67.25,223.44 67.25,220.29 67.75,220.29 67.75,216.55 68.25,216.55 68.25,212.64 68.75,212.64 68.75,209.54 69.25,209.54 69.25,209.52 69.75,209.52 69.75,208.09 70.25,208.09 70.25,207.42 70.75,207.42 70.75,203.47 71.25,203.47 71.25,199.44 71.75,199.44 71.75,198.09 72.25,198.09 72.25,197.55 72.75,197.55 72.75,196.59 73.25,196.59 73.25,196.20 73.75,196.20 73.75,194.94 74.25,194.94 74.25,196.51 74.75,196.51 74.75,196.39 75.25,196.39 75.25,197.92 75.75,197.92 75.75,199.10 76.25,199.10 76.25,200.90 76.75,200.90 76.75,201.16 77.25,201.16 77.25,204.63 77.75,204.63 77.75,208.75 78.25,208.75 78.25,210.24 78.75,210.24 78.75,211.76 79.25,211.76 79.25,212.26 79.75,212.26 79.75,218.06 80.25,218.06 80.25,222.90 80.75,222.90 80.75,224.97 81.25,224.97 81.25,227.93 81.75,227.93 81.75,231.39 82.25,231.39 82.25,233.73 82.75,233.73 82.75,237.90 83.25,237.90 83.25,242.16 83.75,242.16 83.75,247.15 84.25,247.15 84.25,253.64 84.75,253.64 84.75,256.83 85.25,256.83 85.25,260.16 85.75,260.16 85.75,262.59 86.25,262.59 86.25,265.90 86.75,265.90 86.75,267.37 87.25,267.37 87.25,268.90 87.75,268.90 87.75,270.06 88.25,270.06 88.25,271.46 88.75,271.46 88.75,272.77 89.25,272.77 89.25,274.35 89.75,274.35 89.75,275.46 90.25,275.46 90.25,278.09 90.75,278.09 90.75,279.57 91.25,279.57 91.25,281.35 91.75,281.35 91.75,282.67 92.25,282.67 92.25,284.53 92.75,284.53 92.75,285.26 93.25,285.26 93.25,286.19 93.75,286.19 93.75,284.95 94.25,284.95 94.25,283.37 94.75,283.37 94.75,282.41 95.10,282.41" fill="none" stroke="#e4121a" stroke-width="0.80"/>
<polygon points="95.10,301.80 95.10,282.30 95.75,282.30 95.75,282.42 96.25,282.42 96.25,280.34 96.75,280.34 96.75,277.79 97.25,277.79 97.25,278.42 97.75,278.42 97.75,278.71 98.25,278.71 98.25,278.70 98.75,278.70 98.75,278.88 99.25,278.88 99.25,277.00 99.75,277.00 99.75,275.88 100.25,275.88 100.25,274.57 100.75,274.57 100.75,272.93 101.25,272.93 101.25,270.48 101.75,270.48 101.75,268.03 102.25,268.03 102.25,265.01 102.75,265.01 102.75,263.55 103.25,263.55 103.25,261.45 103.75,261.45 103.75,260.52 104.25,260.52 104.25,258.02 104.75,258.02 104.75,257.38 105.25,257.38 105.25,257.39 105.75,257.39 105.75,258.85 106.25,258.85 106.25,259.40 106.75,259.40 106.75,258.60 107.25,258.60 107.25,258.73 107.75,258.73 107.75,257.61 108.25,257.61 108.25,255.55 108.75,255.55 108.75,255.35 109.25,255.35 109.25,253.87 109.75,253.87 109.75,253.29 110.25,253.29 110.25,255.33 110.75,255.33 110.75,257.95 111.25,257.95 111.25,260.03 111.75,260.03 111.75,261.25 112.25,261.25 112.25,264.13 112.75,264.13 112.75,265.56 113.25,265.56 113.25,267.95 113.75,267.95 113.75,268.79 114.25,268.79 114.25,270.98 114.75,270.98 114.75,273.16 115.25,273.16 115.25,274.93 115.75,274.93 115.75,275.28 116.25,275.28 116.25,276.81 116.75,276.81 116.75,278.55 117.25,278.55 117.25,280.46 117.75,280.46 117.75,281.43 118.25,281.43 118.25,283.53 118.75,283.53 118.75,285.03 119.25,285.03 119.25,286.78 119.75,286.78 119.75,289.43 120.25,289.43 120.25,291.09 120.75,291.09 120.75,292.24 121.25,292.24 121.25,293.53 121.75,293.53 121.75,294.68 122.25,294.68 122.25,295.12 122.75,295.12 122.75,295.95 123.25,295.95 123.25,297.30 123.75,297.30 123.75,297.80 124.25,297.80 124.25,298.32 124.75,298.32 124.75,299.04 125.25,299.04 125.25,299.00 125.75,299.00 125.75,299.72 126.25,299.72 126.25,299.92 126.75,299.92 126.75,300.17 127.25,300.17 127.25,300.10 127.75,300.10 127.75,300.09 128.25,300.09 128.25,300.12 128.75,300.12 128.75,300.42 129.25,300.42 129.25,300.41 129.75,300.41 129.75,300.49 130.25,300.49 130.25,300.78 130.75,300.78 130.75,300.66 131.25,300.66 131.25,300.68 131.75,300.68 131.75,300.64 132.25,300.64 132.25,300.74 132.75,300.74 132.75,300.72 133.25,300.72 133.25,300.78 133.75,300.78 133.75,300.80 134.25,300.80 134.25,300.80 134.75,300.80 134.75,300.86 135.25,300.86 135.25,300.96 135.75,300.96 135.75,300.87 136.25,300.87 136.25,300.94 136.75,300.94 136.75,301.80 137.25,301.80 137.25,301.80 137.75,301.80 137.75,301.80 138.25,301.80 138.25,301.80 138.75,301.80 138.75,301.80 139.25,301.80 139.25,301.80 139.75,301.80 139.75,301.80 140.25,301.80 140.25,300.24 140.75,300.24 140.75,301.80 141.25,301.80 141.25,301.80 141.75,301.80 141.75,300.06 142.25,300.06 142.25,301.80 142.75,301.80 142.75,301.80 143.50,301.80 143.50,301.80" fill="#7b72c8"/>
<polyline points="95.10,282.30 95.75,282.30 95.75,282.42 96.25,282.42 96.25,280.34 96.75,280.34 96.75,277.79 97.25,277.79 97.25,278.42 97.75,278.42 97.75,278.71 98.25,278.71 98.25,278.70 98.75,278.70 98.75,278.88 99.25,278.88 99.25,277.00 99.75,277.00 99.75,275.88 100.25,275.88 100.25,274.57 100.75,274.57 100.75,272.93 101.25,272.93 101.25,270.48 101.75,270.48 101.75,268.03 102.25,268.03 102.25,265.01 102.75,265.01 102.75,263.55 103.25,263.55 103.25,261.45 103.75,261.45 103.75,260.52 104.25,260.52 104.25,258.02 104.75,258.02 104.75,257.38 105.25,257.38 105.25,257.39 105.75,257.39 105.75,258.85 106.25,258.85 106.25,259.40 106.75,259.40 106.75,258.60 107.25,258.60 107.25,258.73 107.75,258.73 107.75,257.61 108.25,257.61 108.25,255.55 108.75,255.55 108.75,255.35 109.25,255.35 109.25,253.87 109.75,253.87 109.75,253.29 110.25,253.29 110.25,255.33 110.75,255.33 110.75,257.95 111.25,257.95 111.25,260.03 111.75,260.03 111.75,261.25 112.25,261.25 112.25,264.13 112.75,264.13 112.75,265.56 113.25,265.56 113.25,267.95 113.75,267.95 113.75,268.79 114.25,268.79 114.25,270.98 114.75,270.98 114.75,273.16 115.25,273.16 115.25,274.93 115.75,274.93 115.75,275.28 116.25,275.28 116.25,276.81 116.75,276.81 116.75,278.55 117.25,278.55 117.25,280.46 117.75,280.46 117.75,281.43 118.25,281.43 118.25,283.53 118.75,283.53 118.75,285.03 119.25,285.03 119.25,286.78 119.75,286.78 119.75,289.43 120.25,289.43 120.25,291.09 120.75,291.09 120.75,292.24 121.25,292.24 121.25,293.53 121.75,293.53 121.75,294.68 122.25,294.68 122.25,295.12 122.75,295.12 122.75,295.95 123.25,295.95 123.25,297.30 123.75,297.30 123.75,297.80 124.25,297.80 124.25,298.32 124.75,298.32 124.75,299.04 125.25,299.04 125.25,299.00 125.75,299.00 125.75,299.72 126.25,299.72 126.25,299.92 126.75,299.92 126.75,300.17 127.25,300.17 127.25,300.10 127.75,300.10 127.75,300.09 128.25,300.09 128.25,300.12 128.75,300.12 128.75,300.42 129.25,300.42 129.25,300.41 129.75,300.41 129.75,300.49 130.25,300.49 130.25,300.78 130.75,300.78 130.75,300.66 131.25,300.66 131.25,300.68 131.75,300.68 131.75,300.64 132.25,300.64 132.25,300.74 132.75,300.74 132.75,300.72 133.25,300.72 133.25,300.78 133.75,300.78 133.75,300.80 134.25,300.80 134.25,300.80 134.75,300.80 134.75,300.86 135.25,300.86 135.25,300.96 135.75,300.96 135.75,300.87 136.25,300.87 136.25,300.94 136.75,300.94" fill="none" stroke="#1f5fe0" stroke-width="0.80"/>
<polyline points="140.25,300.24 140.75,300.24" fill="none" stroke="#1f5fe0" stroke-width="0.80"/>
<polyline points="141.75,300.06 142.25,300.06" fill="none" stroke="#1f5fe0" stroke-width="0.80"/>
<polygon points="143.50,301.80 143.50,301.80 143.75,301.80 143.75,301.80 144.25,301.80 144.25,301.80 144.75,301.80 144.75,301.80 145.25,301.80 145.25,301.80 145.75,301.80 145.75,301.80 146.25,301.80 146.25,300.26 146.75,300.26 146.75,301.80 147.25,301.80 147.25,301.80 147.75,301.80 147.75,301.80 148.25,301.80 148.25,301.80 148.75,301.80 148.75,300.54 149.25,300.54 149.25,300.55 149.75,300.55 149.75,301.00 150.25,301.00 150.25,301.80 150.75,301.80 150.75,301.80 151.25,301.80 151.25,299.84 151.75,299.84 151.75,300.00 152.25,300.00 152.25,301.80 152.75,301.80 152.75,301.80 153.25,301.80 153.25,301.80 153.75,301.80 153.75,301.80 154.25,301.80 154.25,301.80 154.75,301.80 154.75,301.80 155.25,301.80 155.25,301.80 155.75,301.80 155.75,300.85 156.25,300.85 156.25,301.80" fill="#ff7f7e"/>
<polyline points="146.25,300.26 146.75,300.26" fill="none" stroke="#e4121a" stroke-width="0.80"/>
<polyline points="148.75,300.54 149.25,300.54 149.25,300.55 149.75,300.55 149.75,301.00 150.25,301.00" fill="none" stroke="#e4121a" stroke-width="0.80"/>
<polyline points="151.25,299.84 151.75,299.84 151.75,300.00 152.25,300.00" fill="none" stroke="#e4121a" stroke-width="0.80"/>
<polyline points="155.75,300.85 156.25,300.85" fill="none" stroke="#e4121a" stroke-width="0.80"/>
<path d="M26.00,301.80V300.45M26.50,300.38V299.26M27.00,301.80V300.35M27.50,301.80V300.36M29.00,301.80V300.04M29.50,300.04V298.80M30.50,299.71V298.11M31.00,301.80V299.84M31.50,301.80V299.53M32.00,299.19V297.76M32.50,301.80V299.30M34.00,301.80V298.62M36.50,301.80V297.42M37.00,301.80V296.99M37.50,296.98V293.73M38.50,295.81V294.18M39.00,295.93V293.33M39.50,295.34V292.88M40.00,298.01V294.53M40.50,297.02V294.12M41.00,293.79V291.75M42.00,293.33V290.49M43.00,300.74V292.42M43.50,301.32V292.64M44.00,292.11V288.75M46.00,290.62V287.75M48.00,298.68V289.50M49.50,287.96V286.98M50.00,295.05V287.72M51.00,287.34V283.41M51.50,290.42V286.03M52.00,283.94V281.87M53.00,293.75V282.25M54.50,285.83V277.87M55.00,282.71V277.57M56.50,274.67V272.15M57.50,271.03V266.66M58.00,267.79V266.61M59.00,263.02V260.07M60.00,265.08V259.86M61.00,268.08V256.69M61.50,254.87V252.54M62.00,254.70V250.24M63.00,267.23V251.78M63.50,262.46V248.43M64.00,253.96V244.91M65.00,231.68V226.10M67.00,223.44V217.26M68.00,216.55V212.47M68.50,212.64V205.37M69.00,209.54V206.41M70.50,225.86V207.42M71.00,203.47V198.82M71.50,216.55V199.44M72.00,209.03V198.09M72.50,197.55V193.36M73.00,196.59V191.73M73.50,196.20V192.41M73.50,196.20V191.90M73.90,196.20V192.70M74.00,204.85V194.94M75.00,196.39V190.40M75.00,196.39V192.00M75.40,196.39V192.80M75.50,212.25V197.92M76.00,199.10V193.47M76.50,200.90V196.95M77.00,201.16V197.17M78.00,208.75V203.73M79.50,212.26V207.87M80.00,225.99V218.06M81.00,230.68V224.97M81.50,232.63V227.93M82.00,231.39V228.26M83.00,237.90V232.67M83.50,249.76V242.16M85.00,256.83V254.89M86.50,265.90V261.20M87.00,281.22V267.37M87.50,273.26V268.90M89.50,274.35V272.14M90.50,278.09V273.84M91.00,285.61V279.57M91.50,281.35V277.29M92.50,284.53V281.99M93.50,286.19V283.29M94.00,284.95V282.97M95.00,290.93V282.41" stroke="#e4121a" stroke-width="0.90" fill="none"/>
<path d="M95.50,282.30V280.77M96.00,282.42V280.11M98.50,282.09V278.70M99.00,284.62V278.88M100.00,275.88V273.31M102.50,265.01V262.67M103.50,265.66V261.45M104.00,260.52V255.35M105.50,269.34V257.39M106.00,258.85V254.94M108.00,257.61V253.67M109.00,255.35V253.21M109.50,253.87V251.47M110.00,253.29V249.90M110.40,253.29V250.70M110.50,255.33V253.10M112.00,271.04V261.25M113.50,267.95V263.29M116.00,279.61V275.28M118.50,283.53V281.94M119.50,289.88V286.78M120.00,289.43V285.49M121.50,300.96V293.53M123.00,301.80V295.95M123.50,301.80V297.30M124.50,301.80V298.32M125.50,301.80V299.00M126.50,299.92V298.41M127.00,301.80V300.17M129.00,300.42V299.08M129.50,300.41V299.98M130.00,300.49V299.76M130.50,300.78V299.43M131.00,300.66V299.69M132.00,301.80V300.64M134.00,300.80V299.74M135.00,301.80V300.86M135.50,301.80V300.96" stroke="#1f5fe0" stroke-width="0.90" fill="none"/>
<path d="M24.50,301.80 V170.00 H157.00 V301.80" fill="none" stroke="#404040" stroke-width="1"/>
<line x1="24.50" y1="302.10" x2="157.00" y2="302.10" stroke="#bdbdbd" stroke-width="1"/>
<line x1="24.95" y1="239.20" x2="24.95" y2="301.80" stroke="#7e3030" stroke-width="1.7"/>
<line x1="24.50" y1="177.80" x2="28.00" y2="177.80" stroke="#404040" stroke-width="0.9"/>
<text x="20.90" y="179.90" class="yl">200</text>
<line x1="24.50" y1="206.70" x2="28.00" y2="206.70" stroke="#404040" stroke-width="0.9"/>
<text x="23.10" y="208.80" class="yl">150</text>
<line x1="24.50" y1="238.40" x2="28.00" y2="238.40" stroke="#404040" stroke-width="0.9"/>
<text x="22.00" y="240.50" class="yl">100</text>
<line x1="24.50" y1="269.80" x2="28.00" y2="269.80" stroke="#404040" stroke-width="0.9"/>
<text x="22.40" y="271.90" class="yl">50</text>
<text transform="translate(29.40,320.40) rotate(-90)" class="xl">1x 10<tspan dy="-2.3" font-size="4">0</tspan></text>
<line x1="63.10" y1="301.80" x2="63.10" y2="298.80" stroke="#404040" stroke-width="0.9"/>
<text transform="translate(64.40,320.40) rotate(-90)" class="xl">1x 10<tspan dy="-2.3" font-size="4">1</tspan></text>
<line x1="96.20" y1="301.80" x2="96.20" y2="298.80" stroke="#404040" stroke-width="0.9"/>
<text transform="translate(97.50,320.40) rotate(-90)" class="xl">1x 10<tspan dy="-2.3" font-size="4">2</tspan></text>
<line x1="129.10" y1="301.80" x2="129.10" y2="298.80" stroke="#404040" stroke-width="0.9"/>
<text transform="translate(130.40,320.40) rotate(-90)" class="xl">1x 10<tspan dy="-2.3" font-size="4">3</tspan></text>
<text transform="translate(160.10,320.40) rotate(-90)" class="xl">1x 10<tspan dy="-2.3" font-size="4">4</tspan></text>
<text transform="translate(104.20,188.00) scale(0.830,1)" class="pc">(20.90%)</text>
<polygon points="190.50,304.20 190.50,303.39 191.25,303.39 191.25,303.31 191.75,303.31 191.75,303.27 192.25,303.27 192.25,302.80 192.75,302.80 192.75,301.08 193.25,301.08 193.25,299.89 193.75,299.89 193.75,297.54 194.25,297.54 194.25,297.49 194.75,297.49 194.75,298.93 195.25,298.93 195.25,299.78 195.75,299.78 195.75,300.50 196.25,300.50 196.25,301.30 196.75,301.30 196.75,300.16 197.25,300.16 197.25,299.15 197.75,299.15 197.75,298.91 198.25,298.91 198.25,297.81 198.75,297.81 198.75,296.81 199.25,296.81 199.25,296.16 199.75,296.16 199.75,295.91 200.25,295.91 200.25,295.01 200.75,295.01 200.75,294.59 201.25,294.59 201.25,293.77 201.75,293.77 201.75,294.64 202.25,294.64 202.25,295.27 202.75,295.27 202.75,295.87 203.25,295.87 203.25,296.03 203.75,296.03 203.75,296.10 204.25,296.10 204.25,295.55 204.75,295.55 204.75,295.18 205.25,295.18 205.25,294.68 205.75,294.68 205.75,293.26 206.25,293.26 206.25,292.19 206.75,292.19 206.75,290.72 207.25,290.72 207.25,290.00 207.75,290.00 207.75,288.05 208.25,288.05 208.25,286.52 208.75,286.52 208.75,284.95 209.25,284.95 209.25,284.47 209.75,284.47 209.75,283.19 210.25,283.19 210.25,282.15 210.75,282.15 210.75,281.45 211.25,281.45 211.25,279.63 211.75,279.63 211.75,280.62 212.25,280.62 212.25,280.93 212.75,280.93 212.75,281.13 213.25,281.13 213.25,281.37 213.75,281.37 213.75,280.47 214.25,280.47 214.25,279.05 214.75,279.05 214.75,276.65 215.25,276.65 215.25,275.15 215.75,275.15 215.75,271.79 216.25,271.79 216.25,269.99 216.75,269.99 216.75,268.16 217.25,268.16 217.25,265.99 217.75,265.99 217.75,263.36 218.25,263.36 218.25,262.38 218.75,262.38 218.75,260.67 219.25,260.67 219.25,259.19 219.75,259.19 219.75,256.70 220.25,256.70 220.25,254.58 220.75,254.58 220.75,251.62 221.25,251.62 221.25,249.10 221.75,249.10 221.75,242.34 222.25,242.34 222.25,233.96 222.75,233.96 222.75,228.29 223.25,228.29 223.25,226.27 223.75,226.27 223.75,221.07 224.25,221.07 224.25,215.53 224.75,215.53 224.75,212.04 225.25,212.04 225.25,208.61 225.75,208.61 225.75,205.08 226.25,205.08 226.25,204.45 226.75,204.45 226.75,206.35 227.25,206.35 227.25,207.43 227.75,207.43 227.75,208.82 228.25,208.82 228.25,209.00 228.75,209.00 228.75,207.80 229.25,207.80 229.25,207.01 229.75,207.01 229.75,206.48 230.25,206.48 230.25,204.42 230.75,204.42 230.75,204.31 231.25,204.31 231.25,203.90 231.75,203.90 231.75,203.29 232.25,203.29 232.25,202.31 232.75,202.31 232.75,201.05 233.25,201.05 233.25,201.30 233.75,201.30 233.75,204.72 234.25,204.72 234.25,207.02 234.75,207.02 234.75,209.37 235.25,209.37 235.25,213.78 235.75,213.78 235.75,216.47 236.25,216.47 236.25,219.84 236.75,219.84 236.75,223.36 237.25,223.36 237.25,228.16 237.75,228.16 237.75,231.67 238.25,231.67 238.25,235.20 238.75,235.20 238.75,239.30 239.25,239.30 239.25,242.50 239.75,242.50 239.75,247.72 240.25,247.72 240.25,253.65 240.75,253.65 240.75,256.94 241.25,256.94 241.25,257.12 241.75,257.12 241.75,257.32 242.25,257.32 242.25,258.43 242.75,258.43 242.75,258.77 243.25,258.77 243.25,260.35 243.75,260.35 243.75,261.63 244.40,261.63 244.40,304.20" fill="#ff7f7e"/>
<polyline points="190.50,303.39 191.25,303.39 191.25,303.31 191.75,303.31 191.75,303.27 192.25,303.27 192.25,302.80 192.75,302.80 192.75,301.08 193.25,301.08 193.25,299.89 193.75,299.89 193.75,297.54 194.25,297.54 194.25,297.49 194.75,297.49 194.75,298.93 195.25,298.93 195.25,299.78 195.75,299.78 195.75,300.50 196.25,300.50 196.25,301.30 196.75,301.30 196.75,300.16 197.25,300.16 197.25,299.15 197.75,299.15 197.75,298.91 198.25,298.91 198.25,297.81 198.75,297.81 198.75,296.81 199.25,296.81 199.25,296.16 199.75,296.16 199.75,295.91 200.25,295.91 200.25,295.01 200.75,295.01 200.75,294.59 201.25,294.59 201.25,293.77 201.75,293.77 201.75,294.64 202.25,294.64 202.25,295.27 202.75,295.27 202.75,295.87 203.25,295.87 203.25,296.03 203.75,296.03 203.75,296.10 204.25,296.10 204.25,295.55 204.75,295.55 204.75,295.18 205.25,295.18 205.25,294.68 205.75,294.68 205.75,293.26 206.25,293.26 206.25,292.19 206.75,292.19 206.75,290.72 207.25,290.72 207.25,290.00 207.75,290.00 207.75,288.05 208.25,288.05 208.25,286.52 208.75,286.52 208.75,284.95 209.25,284.95 209.25,284.47 209.75,284.47 209.75,283.19 210.25,283.19 210.25,282.15 210.75,282.15 210.75,281.45 211.25,281.45 211.25,279.63 211.75,279.63 211.75,280.62 212.25,280.62 212.25,280.93 212.75,280.93 212.75,281.13 213.25,281.13 213.25,281.37 213.75,281.37 213.75,280.47 214.25,280.47 214.25,279.05 214.75,279.05 214.75,276.65 215.25,276.65 215.25,275.15 215.75,275.15 215.75,271.79 216.25,271.79 216.25,269.99 216.75,269.99 216.75,268.16 217.25,268.16 217.25,265.99 217.75,265.99 217.75,263.36 218.25,263.36 218.25,262.38 218.75,262.38 218.75,260.67 219.25,260.67 219.25,259.19 219.75,259.19 219.75,256.70 220.25,256.70 220.25,254.58 220.75,254.58 220.75,251.62 221.25,251.62 221.25,249.10 221.75,249.10 221.75,242.34 222.25,242.34 222.25,233.96 222.75,233.96 222.75,228.29 223.25,228.29 223.25,226.27 223.75,226.27 223.75,221.07 224.25,221.07 224.25,215.53 224.75,215.53 224.75,212.04 225.25,212.04 225.25,208.61 225.75,208.61 225.75,205.08 226.25,205.08 226.25,204.45 226.75,204.45 226.75,206.35 227.25,206.35 227.25,207.43 227.75,207.43 227.75,208.82 228.25,208.82 228.25,209.00 228.75,209.00 228.75,207.80 229.25,207.80 229.25,207.01 229.75,207.01 229.75,206.48 230.25,206.48 230.25,204.42 230.75,204.42 230.75,204.31 231.25,204.31 231.25,203.90 231.75,203.90 231.75,203.29 232.25,203.29 232.25,202.31 232.75,202.31 232.75,201.05 233.25,201.05 233.25,201.30 233.75,201.30 233.75,204.72 234.25,204.72 234.25,207.02 234.75,207.02 234.75,209.37 235.25,209.37 235.25,213.78 235.75,213.78 235.75,216.47 236.25,216.47 236.25,219.84 236.75,219.84 236.75,223.36 237.25,223.36 237.25,228.16 237.75,228.16 237.75,231.67 238.25,231.67 238.25,235.20 238.75,235.20 238.75,239.30 239.25,239.30 239.25,242.50 239.75,242.50 239.75,247.72 240.25,247.72 240.25,253.65 240.75,253.65 240.75,256.94 241.25,256.94 241.25,257.12 241.75,257.12 241.75,257.32 242.25,257.32 242.25,258.43 242.75,258.43 242.75,258.77 243.25,258.77 243.25,260.35 243.75,260.35 243.75,261.63 244.40,261.63" fill="none" stroke="#e4121a" stroke-width="0.80"/>
<polygon points="244.40,304.20 244.40,262.32 244.75,262.32 244.75,261.92 245.25,261.92 245.25,262.15 245.75,262.15 245.75,263.41 246.25,263.41 246.25,263.84 246.75,263.84 246.75,258.98 247.25,258.98 247.25,253.49 247.75,253.49 247.75,245.54 248.25,245.54 248.25,236.24 248.75,236.24 248.75,232.36 249.25,232.36 249.25,229.34 249.75,229.34 249.75,226.45 250.25,226.45 250.25,225.46 250.75,225.46 250.75,223.85 251.25,223.85 251.25,220.96 251.75,220.96 251.75,220.40 252.25,220.40 252.25,218.66 252.75,218.66 252.75,217.35 253.25,217.35 253.25,217.51 253.75,217.51 253.75,218.62 254.25,218.62 254.25,217.92 254.75,217.92 254.75,219.25 255.25,219.25 255.25,221.34 255.75,221.34 255.75,227.82 256.25,227.82 256.25,232.18 256.75,232.18 256.75,237.51 257.25,237.51 257.25,244.09 257.75,244.09 257.75,247.76 258.25,247.76 258.25,254.77 258.75,254.77 258.75,260.39 259.25,260.39 259.25,264.24 259.75,264.24 259.75,268.81 260.25,268.81 260.25,274.96 260.75,274.96 260.75,277.60 261.25,277.60 261.25,280.06 261.75,280.06 261.75,281.11 262.25,281.11 262.25,283.74 262.75,283.74 262.75,286.04 263.25,286.04 263.25,288.05 263.75,288.05 263.75,289.97 264.25,289.97 264.25,290.78 264.75,290.78 264.75,292.47 265.25,292.47 265.25,292.96 265.75,292.96 265.75,293.60 266.25,293.60 266.25,294.24 266.75,294.24 266.75,294.73 267.25,294.73 267.25,295.56 267.75,295.56 267.75,295.54 268.25,295.54 268.25,295.25 268.75,295.25 268.75,295.93 269.25,295.93 269.25,295.69 269.75,295.69 269.75,295.88 270.25,295.88 270.25,296.66 270.75,296.66 270.75,296.83 271.25,296.83 271.25,296.82 271.75,296.82 271.75,296.55 272.25,296.55 272.25,296.60 272.75,296.60 272.75,297.33 273.25,297.33 273.25,297.13 273.75,297.13 273.75,296.90 274.25,296.90 274.25,296.57 274.75,296.57 274.75,296.03 275.25,296.03 275.25,296.37 275.75,296.37 275.75,295.30 276.25,295.30 276.25,295.82 276.75,295.82 276.75,295.76 277.25,295.76 277.25,296.97 277.75,296.97 277.75,297.44 278.25,297.44 278.25,298.12 278.75,298.12 278.75,299.54 279.25,299.54 279.25,299.31 279.75,299.31 279.75,298.97 280.25,298.97 280.25,299.03 280.75,299.03 280.75,299.11 281.25,299.11 281.25,298.95 281.75,298.95 281.75,299.09 282.25,299.09 282.25,298.55 282.75,298.55 282.75,299.07 283.25,299.07 283.25,298.48 283.75,298.48 283.75,298.45 284.25,298.45 284.25,298.30 284.75,298.30 284.75,298.87 285.25,298.87 285.25,299.56 285.75,299.56 285.75,300.00 286.25,300.00 286.25,300.29 286.75,300.29 286.75,301.59 287.25,301.59 287.25,301.62 287.75,301.62 287.75,301.35 288.25,301.35 288.25,301.43 288.75,301.43 288.75,301.99 289.25,301.99 289.25,301.70 289.75,301.70 289.75,301.41 290.25,301.41 290.25,301.77 290.75,301.77 290.75,301.76 291.25,301.76 291.25,301.38 291.75,301.38 291.75,301.57 292.25,301.57 292.25,302.21 292.75,302.21 292.75,302.31 293.50,302.31 293.50,304.20" fill="#7b72c8"/>
<polyline points="244.40,262.32 244.75,262.32 244.75,261.92 245.25,261.92 245.25,262.15 245.75,262.15 245.75,263.41 246.25,263.41 246.25,263.84 246.75,263.84 246.75,258.98 247.25,258.98 247.25,253.49 247.75,253.49 247.75,245.54 248.25,245.54 248.25,236.24 248.75,236.24 248.75,232.36 249.25,232.36 249.25,229.34 249.75,229.34 249.75,226.45 250.25,226.45 250.25,225.46 250.75,225.46 250.75,223.85 251.25,223.85 251.25,220.96 251.75,220.96 251.75,220.40 252.25,220.40 252.25,218.66 252.75,218.66 252.75,217.35 253.25,217.35 253.25,217.51 253.75,217.51 253.75,218.62 254.25,218.62 254.25,217.92 254.75,217.92 254.75,219.25 255.25,219.25 255.25,221.34 255.75,221.34 255.75,227.82 256.25,227.82 256.25,232.18 256.75,232.18 256.75,237.51 257.25,237.51 257.25,244.09 257.75,244.09 257.75,247.76 258.25,247.76 258.25,254.77 258.75,254.77 258.75,260.39 259.25,260.39 259.25,264.24 259.75,264.24 259.75,268.81 260.25,268.81 260.25,274.96 260.75,274.96 260.75,277.60 261.25,277.60 261.25,280.06 261.75,280.06 261.75,281.11 262.25,281.11 262.25,283.74 262.75,283.74 262.75,286.04 263.25,286.04 263.25,288.05 263.75,288.05 263.75,289.97 264.25,289.97 264.25,290.78 264.75,290.78 264.75,292.47 265.25,292.47 265.25,292.96 265.75,292.96 265.75,293.60 266.25,293.60 266.25,294.24 266.75,294.24 266.75,294.73 267.25,294.73 267.25,295.56 267.75,295.56 267.75,295.54 268.25,295.54 268.25,295.25 268.75,295.25 268.75,295.93 269.25,295.93 269.25,295.69 269.75,295.69 269.75,295.88 270.25,295.88 270.25,296.66 270.75,296.66 270.75,296.83 271.25,296.83 271.25,296.82 271.75,296.82 271.75,296.55 272.25,296.55 272.25,296.60 272.75,296.60 272.75,297.33 273.25,297.33 273.25,297.13 273.75,297.13 273.75,296.90 274.25,296.90 274.25,296.57 274.75,296.57 274.75,296.03 275.25,296.03 275.25,296.37 275.75,296.37 275.75,295.30 276.25,295.30 276.25,295.82 276.75,295.82 276.75,295.76 277.25,295.76 277.25,296.97 277.75,296.97 277.75,297.44 278.25,297.44 278.25,298.12 278.75,298.12 278.75,299.54 279.25,299.54 279.25,299.31 279.75,299.31 279.75,298.97 280.25,298.97 280.25,299.03 280.75,299.03 280.75,299.11 281.25,299.11 281.25,298.95 281.75,298.95 281.75,299.09 282.25,299.09 282.25,298.55 282.75,298.55 282.75,299.07 283.25,299.07 283.25,298.48 283.75,298.48 283.75,298.45 284.25,298.45 284.25,298.30 284.75,298.30 284.75,298.87 285.25,298.87 285.25,299.56 285.75,299.56 285.75,300.00 286.25,300.00 286.25,300.29 286.75,300.29 286.75,301.59 287.25,301.59 287.25,301.62 287.75,301.62 287.75,301.35 288.25,301.35 288.25,301.43 288.75,301.43 288.75,301.99 289.25,301.99 289.25,301.70 289.75,301.70 289.75,301.41 290.25,301.41 290.25,301.77 290.75,301.77 290.75,301.76 291.25,301.76 291.25,301.38 291.75,301.38 291.75,301.57 292.25,301.57 292.25,302.21 292.75,302.21 292.75,302.31 293.50,302.31" fill="none" stroke="#1f5fe0" stroke-width="0.80"/>
<polygon points="293.50,304.20 293.50,302.74 293.75,302.74 293.75,302.62 294.25,302.62 294.25,302.98 294.75,302.98 294.75,302.78 295.25,302.78 295.25,302.95 295.75,302.95 295.75,302.95 296.25,302.95 296.25,302.99 296.75,302.99 296.75,302.81 297.25,302.81 297.25,302.98 297.75,302.98 297.75,303.19 298.25,303.19 298.25,303.28 298.75,303.28 298.75,303.26 299.25,303.26 299.25,303.19 299.75,303.19 299.75,303.16 300.25,303.16 300.25,303.39 300.75,303.39 300.75,303.16 301.25,303.16 301.25,303.33 301.75,303.33 301.75,303.25 302.25,303.25 302.25,303.30 302.75,303.30 302.75,303.37 303.25,303.37 303.25,303.40 303.75,303.40 303.75,303.30 304.25,303.30 304.25,303.10 304.75,303.10 304.75,304.20 305.25,304.20 305.25,304.20 305.75,304.20 305.75,302.46 306.25,302.46 306.25,304.20 306.75,304.20 306.75,302.30 307.25,302.30 307.25,304.20 307.75,304.20 307.75,304.20 308.25,304.20 308.25,304.20 308.75,304.20 308.75,302.55 309.25,302.55 309.25,304.20 309.75,304.20 309.75,304.20 310.25,304.20 310.25,304.20 310.75,304.20 310.75,304.20 311.25,304.20 311.25,302.49 311.75,302.49 311.75,304.20 312.25,304.20 312.25,302.57 312.75,302.57 312.75,304.20 313.25,304.20 313.25,304.20 313.75,304.20 313.75,304.20 314.25,304.20 314.25,304.20 314.75,304.20 314.75,304.20 315.25,304.20 315.25,304.20 315.75,304.20 315.75,304.20 316.25,304.20 316.25,302.39 316.75,302.39 316.75,304.20 317.25,304.20 317.25,302.58 317.75,302.58 317.75,304.20 318.25,304.20 318.25,304.20 318.75,304.20 318.75,304.20 319.25,304.20 319.25,302.27 319.75,302.27 319.75,304.20 320.25,304.20 320.25,303.06 320.75,303.06 320.75,303.39 321.25,303.39 321.25,302.73 321.75,302.73 321.75,302.49 322.25,302.49 322.25,303.14 322.75,303.14 322.75,304.20" fill="#ff7f7e"/>
<polyline points="293.50,302.74 293.75,302.74 293.75,302.62 294.25,302.62 294.25,302.98 294.75,302.98 294.75,302.78 295.25,302.78 295.25,302.95 295.75,302.95 295.75,302.95 296.25,302.95 296.25,302.99 296.75,302.99 296.75,302.81 297.25,302.81 297.25,302.98 297.75,302.98 297.75,303.19 298.25,303.19 298.25,303.28 298.75,303.28 298.75,303.26 299.25,303.26 299.25,303.19 299.75,303.19 299.75,303.16 300.25,303.16 300.25,303.39 300.75,303.39 300.75,303.16 301.25,303.16 301.25,303.33 301.75,303.33 301.75,303.25 302.25,303.25 302.25,303.30 302.75,303.30 302.75,303.37 303.25,303.37 303.25,303.40 303.75,303.40 303.75,303.30 304.25,303.30 304.25,303.10 304.75,303.10" fill="none" stroke="#e4121a" stroke-width="0.80"/>
<polyline points="305.75,302.46 306.25,302.46" fill="none" stroke="#e4121a" stroke-width="0.80"/>
<polyline points="306.75,302.30 307.25,302.30" fill="none" stroke="#e4121a" stroke-width="0.80"/>
<polyline points="308.75,302.55 309.25,302.55" fill="none" stroke="#e4121a" stroke-width="0.80"/>
<polyline points="311.25,302.49 311.75,302.49" fill="none" stroke="#e4121a" stroke-width="0.80"/>
<polyline points="312.25,302.57 312.75,302.57" fill="none" stroke="#e4121a" stroke-width="0.80"/>
<polyline points="316.25,302.39 316.75,302.39" fill="none" stroke="#e4121a" stroke-width="0.80"/>
<polyline points="317.25,302.58 317.75,302.58" fill="none" stroke="#e4121a" stroke-width="0.80"/>
<polyline points="319.25,302.27 319.75,302.27" fill="none" stroke="#e4121a" stroke-width="0.80"/>
<polyline points="320.25,303.06 320.75,303.06 320.75,303.39 321.25,303.39 321.25,302.73 321.75,302.73 321.75,302.49 322.25,302.49 322.25,303.14 322.75,303.14" fill="none" stroke="#e4121a" stroke-width="0.80"/>
<path d="M191.00,304.20V303.39M191.50,303.31V302.20M192.00,303.27V302.42M193.00,301.08V299.00M193.50,299.89V297.10M194.00,297.54V295.80M194.50,304.20V297.49M195.00,304.20V298.93M196.00,304.20V300.50M197.00,300.16V297.80M199.00,299.67V296.81M199.50,296.16V293.15M200.00,295.91V293.95M200.50,295.01V292.50M202.00,294.64V292.24M202.50,303.67V295.27M203.50,298.15V296.03M205.00,295.18V292.53M206.00,297.92V293.26M207.50,300.83V290.00M208.50,296.30V286.52M210.00,283.19V279.73M210.50,282.15V277.87M211.50,284.92V279.63M212.00,280.62V277.91M212.50,280.93V277.07M213.00,289.45V281.13M214.00,280.47V278.43M215.50,275.15V271.48M216.00,271.79V268.46M217.00,268.16V262.84M218.00,263.36V258.41M218.50,275.60V262.38M219.50,259.19V254.37M221.00,257.12V251.62M223.00,228.29V225.21M223.50,226.27V223.46M224.50,215.53V209.87M225.00,230.79V212.04M225.50,208.61V203.22M226.00,205.08V198.95M226.00,205.08V198.80M226.40,205.08V199.60M226.50,204.45V199.32M227.00,206.35V201.09M227.50,207.43V203.91M228.00,214.22V208.82M228.50,209.00V206.16M230.50,204.42V201.78M233.00,201.05V194.74M233.00,201.05V194.50M233.40,201.05V195.30M234.00,204.72V197.69M234.50,216.53V207.02M235.00,209.37V207.34M236.50,219.84V217.92M237.00,223.36V218.40M239.00,239.30V233.86M239.50,256.50V242.50M240.50,253.65V250.70M241.50,257.12V251.93M242.50,268.05V258.43M243.00,258.77V254.56M243.50,260.35V255.92M244.00,261.63V259.47M293.50,302.74V301.04M294.00,302.62V301.86M294.50,304.20V302.98M296.50,302.99V302.33M297.00,302.81V301.76M298.00,303.19V302.51M299.50,303.19V302.34M300.00,303.94V303.16M300.50,304.20V303.39M301.00,303.94V303.16M301.50,303.33V302.66M302.00,304.20V303.25" stroke="#e4121a" stroke-width="0.90" fill="none"/>
<path d="M245.00,261.92V257.26M246.00,263.41V258.65M246.50,270.91V263.84M247.00,258.98V253.90M248.50,244.69V236.24M249.00,247.30V232.36M250.00,226.45V224.27M250.50,225.46V219.35M252.00,220.40V215.95M253.00,232.23V217.35M253.00,217.35V213.10M253.40,217.35V213.90M255.00,219.25V216.22M255.00,219.25V214.70M255.40,219.25V215.50M255.50,221.34V215.79M258.50,269.65V254.77M259.50,276.76V264.24M260.00,268.81V265.53M262.00,281.11V278.45M263.50,288.05V285.56M265.00,295.24V292.47M266.50,294.24V291.20M267.00,298.65V294.73M267.50,303.60V295.56M269.00,295.93V293.80M269.50,298.24V295.69M270.00,304.20V295.88M272.00,302.49V296.55M273.00,297.33V295.62M274.50,296.57V294.92M276.50,299.66V295.82M277.00,297.93V295.76M279.00,301.98V299.54M279.50,299.31V297.42M280.00,303.53V298.97M282.00,299.09V296.92M282.50,303.90V298.55M284.00,298.45V296.66M285.00,298.87V297.42M285.50,299.56V297.53M286.00,300.00V298.36M286.50,300.29V298.75M287.00,304.20V301.59M287.50,304.20V301.62M288.50,301.43V299.30M289.00,301.99V300.02M289.50,301.70V300.30M290.00,301.41V298.96M290.50,301.77V300.00M291.00,301.76V300.63M291.50,301.38V300.33M293.00,302.31V300.93" stroke="#1f5fe0" stroke-width="0.90" fill="none"/>
<path d="M190.50,304.20 V172.50 H323.50 V304.20" fill="none" stroke="#404040" stroke-width="1"/>
<line x1="190.50" y1="304.50" x2="323.50" y2="304.50" stroke="#bdbdbd" stroke-width="1"/>
<line x1="190.95" y1="248.00" x2="190.95" y2="304.20" stroke="#7e3030" stroke-width="1.7"/>
<line x1="190.50" y1="180.20" x2="194.00" y2="180.20" stroke="#404040" stroke-width="0.9"/>
<text x="187.60" y="182.30" class="yl">200</text>
<line x1="190.50" y1="209.20" x2="194.00" y2="209.20" stroke="#404040" stroke-width="0.9"/>
<text x="189.80" y="211.30" class="yl">150</text>
<line x1="190.50" y1="240.40" x2="194.00" y2="240.40" stroke="#404040" stroke-width="0.9"/>
<text x="188.70" y="242.50" class="yl">100</text>
<line x1="190.50" y1="272.00" x2="194.00" y2="272.00" stroke="#404040" stroke-width="0.9"/>
<text x="189.10" y="274.10" class="yl">50</text>
<text transform="translate(196.00,323.10) rotate(-90)" class="xl">1x 10<tspan dy="-2.3" font-size="4">0</tspan></text>
<line x1="229.10" y1="304.20" x2="229.10" y2="301.20" stroke="#404040" stroke-width="0.9"/>
<text transform="translate(231.00,323.10) rotate(-90)" class="xl">1x 10<tspan dy="-2.3" font-size="4">1</tspan></text>
<line x1="262.20" y1="304.20" x2="262.20" y2="301.20" stroke="#404040" stroke-width="0.9"/>
<text transform="translate(264.10,323.10) rotate(-90)" class="xl">1x 10<tspan dy="-2.3" font-size="4">2</tspan></text>
<line x1="295.10" y1="304.20" x2="295.10" y2="301.20" stroke="#404040" stroke-width="0.9"/>
<text transform="translate(297.00,323.10) rotate(-90)" class="xl">1x 10<tspan dy="-2.3" font-size="4">3</tspan></text>
<text transform="translate(326.70,323.10) rotate(-90)" class="xl">1x 10<tspan dy="-2.3" font-size="4">4</tspan></text>
<text transform="translate(253.80,193.30) scale(0.830,1)" class="pc">(31.74%)</text>
<line x1="396.95" y1="95.05" x2="396.95" y2="237.30" stroke="#000" stroke-width="1.80"/>
<line x1="393.20" y1="236.50" x2="609.60" y2="236.50" stroke="#000" stroke-width="1.70"/>
<line x1="392.30" y1="236.50" x2="396.95" y2="236.50" stroke="#000" stroke-width="1.50"/>
<text x="391.3" y="240.10" class="bl" text-anchor="end">0</text>
<line x1="392.30" y1="201.32" x2="396.95" y2="201.32" stroke="#000" stroke-width="1.50"/>
<text x="391.3" y="204.92" class="bl" text-anchor="end">10</text>
<line x1="392.30" y1="166.15" x2="396.95" y2="166.15" stroke="#000" stroke-width="1.50"/>
<text x="391.3" y="169.75" class="bl" text-anchor="end">20</text>
<line x1="392.30" y1="130.98" x2="396.95" y2="130.98" stroke="#000" stroke-width="1.50"/>
<text x="391.3" y="134.58" class="bl" text-anchor="end">30</text>
<line x1="392.30" y1="95.80" x2="396.95" y2="95.80" stroke="#000" stroke-width="1.50"/>
<text x="391.3" y="99.40" class="bl" text-anchor="end">40</text>
<line x1="432.40" y1="236.50" x2="432.40" y2="241.50" stroke="#000" stroke-width="1.40"/>
<line x1="502.50" y1="236.50" x2="502.50" y2="241.50" stroke="#000" stroke-width="1.40"/>
<line x1="573.00" y1="236.50" x2="573.00" y2="241.50" stroke="#000" stroke-width="1.40"/>
<line x1="420.70" y1="208.40" x2="420.70" y2="212.60" stroke="#000" stroke-width="1.60"/>
<line x1="414.50" y1="208.40" x2="426.60" y2="208.40" stroke="#000" stroke-width="1.80" stroke-linecap="round"/>
<path d="M408.85,236.50 V211.60 H431.60 V236.50" fill="none" stroke="#000" stroke-width="1.5"/>
<line x1="444.20" y1="181.00" x2="444.20" y2="183.10" stroke="#000" stroke-width="1.80"/>
<line x1="438.20" y1="181.00" x2="450.10" y2="181.00" stroke="#000" stroke-width="1.90" stroke-linecap="round"/>
<rect x="431.40" y="182.10" width="25.10" height="54.90" fill="#000" rx="0.7"/>
<line x1="490.90" y1="208.70" x2="490.90" y2="212.55" stroke="#000" stroke-width="1.60"/>
<line x1="484.90" y1="208.70" x2="497.10" y2="208.70" stroke="#000" stroke-width="1.80" stroke-linecap="round"/>
<path d="M479.65,236.50 V211.55 H502.20 V236.50" fill="none" stroke="#000" stroke-width="1.5"/>
<line x1="514.90" y1="161.85" x2="514.90" y2="165.30" stroke="#000" stroke-width="1.80"/>
<line x1="508.90" y1="161.85" x2="521.00" y2="161.85" stroke="#000" stroke-width="1.90" stroke-linecap="round"/>
<rect x="502.00" y="164.30" width="25.60" height="72.70" fill="#000" rx="0.7"/>
<line x1="561.90" y1="209.35" x2="561.90" y2="212.90" stroke="#000" stroke-width="1.60"/>
<line x1="556.10" y1="209.35" x2="567.80" y2="209.35" stroke="#000" stroke-width="1.80" stroke-linecap="round"/>
<path d="M550.35,236.50 V211.90 H572.70 V236.50" fill="none" stroke="#000" stroke-width="1.5"/>
<line x1="585.35" y1="106.75" x2="585.35" y2="113.20" stroke="#000" stroke-width="1.80"/>
<line x1="579.80" y1="106.75" x2="591.20" y2="106.75" stroke="#000" stroke-width="1.90" stroke-linecap="round"/>
<rect x="572.50" y="112.20" width="25.30" height="124.80" fill="#000" rx="0.7"/>
<line x1="419.00" y1="170.80" x2="442.90" y2="170.80" stroke="#000" stroke-width="1.80"/>
<line x1="419.70" y1="166.00" x2="419.70" y2="175.80" stroke="#000" stroke-width="1.45"/>
<line x1="442.20" y1="166.00" x2="442.20" y2="175.80" stroke="#000" stroke-width="1.45"/>
<text x="426.00" y="170.30" class="st">**</text>
<line x1="494.00" y1="150.90" x2="517.50" y2="150.90" stroke="#000" stroke-width="1.80"/>
<line x1="494.70" y1="146.40" x2="494.70" y2="155.70" stroke="#000" stroke-width="1.45"/>
<line x1="516.80" y1="146.40" x2="516.80" y2="155.70" stroke="#000" stroke-width="1.45"/>
<text x="500.90" y="151.20" class="st">**</text>
<line x1="565.00" y1="99.00" x2="588.00" y2="99.00" stroke="#000" stroke-width="1.80"/>
<line x1="565.70" y1="94.80" x2="565.70" y2="103.50" stroke="#000" stroke-width="1.45"/>
<line x1="587.30" y1="94.80" x2="587.30" y2="103.50" stroke="#000" stroke-width="1.45"/>
<text x="571.80" y="98.80" class="st">**</text>
<text x="423.20" y="251.8" class="xb">48h</text>
<text x="494.70" y="251.8" class="xb">72h</text>
<text x="564.90" y="251.8" class="xb">96h</text>
<text transform="translate(374.0,186.0) rotate(-90)" class="ros">ROS(%)</text>
<rect x="623.9" y="102.1" width="15.0" height="7.2" fill="#fff" stroke="#000" stroke-width="1.6" rx="0.8"/>
<rect x="623.1" y="116.8" width="16.5" height="9.7" fill="#000" rx="1"/>
<text x="646.8" y="110.1" class="lg">Control</text>
<text x="646.8" y="125.6" class="lg">PRV</text>
<text x="3.0" y="11.6" class="pl">A</text>
<text x="360.0" y="10.9" class="pl">B</text>
</svg>
</body></html>
